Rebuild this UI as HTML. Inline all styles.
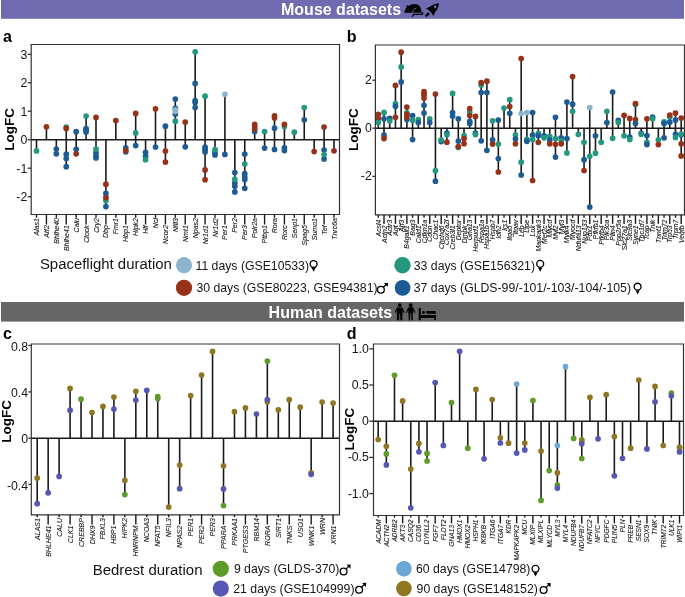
<!DOCTYPE html>
<html><head><meta charset="utf-8"><title>Figure</title>
<style>
html,body{margin:0;padding:0;background:#fff;width:685px;height:597px;overflow:hidden;}
svg{display:block;font-family:"Liberation Sans", sans-serif;will-change:transform;}
</style></head>
<body>
<svg width="685" height="597" viewBox="0 0 685 597">
<rect x="0" y="0" width="685" height="597" fill="#fff"/>
<rect x="1" y="0" width="683" height="18.8" fill="#6f6bb1"/>
<text x="281.0" y="14.5" font-size="16" font-weight="bold" fill="#ffffff">Mouse datasets</text>
<rect x="1" y="302" width="683" height="19.6" fill="#666666"/>
<text x="268.6" y="317.9" font-size="16" font-weight="bold" fill="#ffffff">Human datasets</text>
<path fill="#000" d="M404.3,12.7 C404.7,10.8 405.6,9.0 406.5,7.8 L406.7,5.0 L408.6,6.1 C409.9,4.8 412.0,4.0 414.8,4.0 C418.8,4.0 421.5,7.4 421.5,12.7 Z"/>
<path fill="none" stroke="#6f6bb1" stroke-width="0.9" d="M412.6,12.9 C412.6,10.6 413.9,8.7 416.2,8.3"/>
<circle cx="408.1" cy="9.9" r="0.75" fill="#3a3860"/>
<path fill="none" stroke="#000" stroke-width="1.3" stroke-linecap="round" d="M412.3,16.3 L413.7,14.4 L421.8,14.4 C422.9,14.4 423.0,12.9 422.0,12.6"/>
<path fill="#000" d="M438.9,3.2 C436.6,3.3 434.0,4.2 432.0,5.5 L426.0,8.5 L429.2,10.4 L431.6,13.0 L433.2,15.9 L435.5,11.6 C437.5,9.4 438.8,6.6 438.9,3.2 Z"/>
<circle cx="435.2" cy="6.8" r="1.35" fill="#6f6bb1"/>
<ellipse cx="427.3" cy="14.7" rx="2.7" ry="1.35" transform="rotate(-42 427.3 14.7)" fill="#000"/>
<g fill="#000"><circle cx="399.7" cy="305.2" r="1.85"/><path d="M396.8,307.6 L402.59999999999997,307.6 L404.59999999999997,312.5 L403.7,313.0 L402.5,310.4 L402.5,320.2 L400.2,320.2 L400.09999999999997,313.6 L399.3,313.6 L399.2,320.2 L396.9,320.2 L396.9,310.4 L395.7,313.0 L394.8,312.5 Z"/><circle cx="410.7" cy="305.2" r="1.85"/><path d="M408.3,307.3 L413.09999999999997,307.3 L415.59999999999997,312.6 L414.8,313.1 L413.09999999999997,310.2 L413.3,313.6 L412.8,313.6 L412.8,320.2 L411.3,320.2 L411.2,313.6 L410.2,313.6 L410.09999999999997,320.2 L408.59999999999997,320.2 L408.59999999999997,313.6 L408.09999999999997,313.6 L408.3,310.2 L406.59999999999997,313.1 L405.8,312.6 Z"/><rect x="418.7" y="308.1" width="2.1" height="12.1"/><rect x="420.5" y="315.1" width="15.3" height="2.8"/><rect x="434.1" y="315.1" width="1.7" height="5.1"/><circle cx="423.5" cy="312.5" r="1.45"/><rect x="426.1" y="310.9" width="9.9" height="2.9" rx="1.2"/></g>
<text x="2.9" y="41.7" font-size="16" font-weight="bold" fill="#000">a</text>
<text transform="translate(14.1,129.4) rotate(-90)" text-anchor="middle" font-size="13.5" font-weight="bold" fill="#000">LogFC</text>
<line x1="31.2" y1="139.7" x2="339.5" y2="139.7" stroke="#1a1a1a" stroke-width="1.6"/>
<line x1="36.50" y1="139.70" x2="36.50" y2="150.90" stroke="#1a1a1a" stroke-width="1.6"/>
<line x1="46.42" y1="126.80" x2="46.42" y2="139.70" stroke="#1a1a1a" stroke-width="1.6"/>
<line x1="56.33" y1="139.70" x2="56.33" y2="153.80" stroke="#1a1a1a" stroke-width="1.6"/>
<line x1="66.25" y1="127.20" x2="66.25" y2="166.70" stroke="#1a1a1a" stroke-width="1.6"/>
<line x1="76.17" y1="131.70" x2="76.17" y2="153.80" stroke="#1a1a1a" stroke-width="1.6"/>
<line x1="86.08" y1="116.10" x2="86.08" y2="139.70" stroke="#1a1a1a" stroke-width="1.6"/>
<line x1="96.00" y1="117.40" x2="96.00" y2="158.00" stroke="#1a1a1a" stroke-width="1.6"/>
<line x1="105.92" y1="139.70" x2="105.92" y2="206.60" stroke="#1a1a1a" stroke-width="1.6"/>
<line x1="115.83" y1="120.50" x2="115.83" y2="139.70" stroke="#1a1a1a" stroke-width="1.6"/>
<line x1="125.75" y1="139.70" x2="125.75" y2="151.80" stroke="#1a1a1a" stroke-width="1.6"/>
<line x1="135.67" y1="113.40" x2="135.67" y2="145.60" stroke="#1a1a1a" stroke-width="1.6"/>
<line x1="145.58" y1="139.70" x2="145.58" y2="159.70" stroke="#1a1a1a" stroke-width="1.6"/>
<line x1="155.50" y1="108.80" x2="155.50" y2="147.00" stroke="#1a1a1a" stroke-width="1.6"/>
<line x1="165.42" y1="126.20" x2="165.42" y2="162.10" stroke="#1a1a1a" stroke-width="1.6"/>
<line x1="175.33" y1="99.00" x2="175.33" y2="139.70" stroke="#1a1a1a" stroke-width="1.6"/>
<line x1="185.25" y1="122.00" x2="185.25" y2="146.80" stroke="#1a1a1a" stroke-width="1.6"/>
<line x1="195.17" y1="51.80" x2="195.17" y2="139.70" stroke="#1a1a1a" stroke-width="1.6"/>
<line x1="205.08" y1="96.20" x2="205.08" y2="179.70" stroke="#1a1a1a" stroke-width="1.6"/>
<line x1="215.00" y1="139.70" x2="215.00" y2="155.00" stroke="#1a1a1a" stroke-width="1.6"/>
<line x1="224.92" y1="94.30" x2="224.92" y2="154.40" stroke="#1a1a1a" stroke-width="1.6"/>
<line x1="234.83" y1="139.70" x2="234.83" y2="191.90" stroke="#1a1a1a" stroke-width="1.6"/>
<line x1="244.75" y1="139.70" x2="244.75" y2="188.30" stroke="#1a1a1a" stroke-width="1.6"/>
<line x1="254.67" y1="124.30" x2="254.67" y2="139.70" stroke="#1a1a1a" stroke-width="1.6"/>
<line x1="264.58" y1="131.50" x2="264.58" y2="148.10" stroke="#1a1a1a" stroke-width="1.6"/>
<line x1="274.50" y1="115.90" x2="274.50" y2="149.40" stroke="#1a1a1a" stroke-width="1.6"/>
<line x1="284.42" y1="124.30" x2="284.42" y2="150.60" stroke="#1a1a1a" stroke-width="1.6"/>
<line x1="294.33" y1="132.20" x2="294.33" y2="139.70" stroke="#1a1a1a" stroke-width="1.6"/>
<line x1="304.25" y1="107.50" x2="304.25" y2="139.70" stroke="#1a1a1a" stroke-width="1.6"/>
<line x1="314.17" y1="139.70" x2="314.17" y2="151.60" stroke="#1a1a1a" stroke-width="1.6"/>
<line x1="324.08" y1="127.10" x2="324.08" y2="159.00" stroke="#1a1a1a" stroke-width="1.6"/>
<line x1="334.00" y1="139.70" x2="334.00" y2="150.80" stroke="#1a1a1a" stroke-width="1.6"/>
<circle cx="36.50" cy="150.90" r="2.85" fill="#23987e"/>
<circle cx="46.42" cy="126.80" r="2.85" fill="#973218"/>
<circle cx="56.33" cy="149.10" r="2.85" fill="#1c5b94"/>
<circle cx="56.33" cy="153.80" r="2.85" fill="#1c5b94"/>
<circle cx="66.25" cy="127.20" r="2.85" fill="#23987e"/>
<circle cx="66.25" cy="128.40" r="2.85" fill="#973218"/>
<circle cx="66.25" cy="154.20" r="2.85" fill="#1c5b94"/>
<circle cx="66.25" cy="158.50" r="2.85" fill="#1c5b94"/>
<circle cx="66.25" cy="166.70" r="2.85" fill="#1c5b94"/>
<circle cx="76.17" cy="131.70" r="2.85" fill="#1c5b94"/>
<circle cx="76.17" cy="149.30" r="2.85" fill="#1c5b94"/>
<circle cx="76.17" cy="153.80" r="2.85" fill="#973218"/>
<circle cx="86.08" cy="116.10" r="2.85" fill="#23987e"/>
<circle cx="86.08" cy="128.50" r="2.85" fill="#1c5b94"/>
<circle cx="86.08" cy="130.20" r="2.85" fill="#1c5b94"/>
<circle cx="86.08" cy="131.90" r="2.85" fill="#1c5b94"/>
<circle cx="96.00" cy="117.40" r="2.85" fill="#973218"/>
<circle cx="96.00" cy="152.50" r="2.85" fill="#1c5b94"/>
<circle cx="96.00" cy="155.50" r="2.85" fill="#1c5b94"/>
<circle cx="96.00" cy="158.00" r="2.85" fill="#1c5b94"/>
<circle cx="96.00" cy="149.10" r="2.85" fill="#23987e"/>
<circle cx="105.92" cy="184.20" r="2.85" fill="#973218"/>
<circle cx="105.92" cy="193.40" r="2.85" fill="#1c5b94"/>
<circle cx="105.92" cy="200.40" r="2.85" fill="#23987e"/>
<circle cx="105.92" cy="197.70" r="2.85" fill="#973218"/>
<circle cx="105.92" cy="206.60" r="2.85" fill="#1c5b94"/>
<circle cx="115.83" cy="120.50" r="2.85" fill="#973218"/>
<circle cx="125.75" cy="151.80" r="2.85" fill="#1c5b94"/>
<circle cx="125.75" cy="147.80" r="2.85" fill="#1c5b94"/>
<circle cx="125.75" cy="150.60" r="2.85" fill="#973218"/>
<circle cx="135.67" cy="113.40" r="2.85" fill="#973218"/>
<circle cx="135.67" cy="132.90" r="2.85" fill="#23987e"/>
<circle cx="135.67" cy="145.60" r="2.85" fill="#1c5b94"/>
<circle cx="145.58" cy="152.30" r="2.85" fill="#1c5b94"/>
<circle cx="145.58" cy="156.30" r="2.85" fill="#1c5b94"/>
<circle cx="145.58" cy="159.70" r="2.85" fill="#23987e"/>
<circle cx="155.50" cy="108.80" r="2.85" fill="#973218"/>
<circle cx="155.50" cy="147.00" r="2.85" fill="#1c5b94"/>
<circle cx="165.42" cy="126.20" r="2.85" fill="#1c5b94"/>
<circle cx="165.42" cy="151.10" r="2.85" fill="#973218"/>
<circle cx="165.42" cy="162.10" r="2.85" fill="#973218"/>
<circle cx="175.33" cy="121.20" r="2.85" fill="#23987e"/>
<circle cx="175.33" cy="99.00" r="2.85" fill="#1c5b94"/>
<circle cx="175.33" cy="108.40" r="2.85" fill="#1c5b94"/>
<circle cx="175.33" cy="114.10" r="2.85" fill="#1c5b94"/>
<circle cx="175.33" cy="109.80" r="2.85" fill="#8db4cf"/>
<circle cx="175.33" cy="111.30" r="2.85" fill="#8db4cf"/>
<circle cx="185.25" cy="122.00" r="2.85" fill="#973218"/>
<circle cx="185.25" cy="146.80" r="2.85" fill="#1c5b94"/>
<circle cx="195.17" cy="51.80" r="2.85" fill="#23987e"/>
<circle cx="195.17" cy="83.40" r="2.85" fill="#1c5b94"/>
<circle cx="195.17" cy="100.60" r="2.85" fill="#1c5b94"/>
<circle cx="195.17" cy="102.60" r="2.85" fill="#1c5b94"/>
<circle cx="195.17" cy="107.50" r="2.85" fill="#1c5b94"/>
<circle cx="205.08" cy="96.20" r="2.85" fill="#23987e"/>
<circle cx="205.08" cy="147.20" r="2.85" fill="#1c5b94"/>
<circle cx="205.08" cy="149.60" r="2.85" fill="#1c5b94"/>
<circle cx="205.08" cy="152.00" r="2.85" fill="#1c5b94"/>
<circle cx="205.08" cy="169.90" r="2.85" fill="#973218"/>
<circle cx="205.08" cy="179.70" r="2.85" fill="#973218"/>
<circle cx="215.00" cy="152.50" r="2.85" fill="#1c5b94"/>
<circle cx="215.00" cy="155.00" r="2.85" fill="#1c5b94"/>
<circle cx="215.00" cy="149.60" r="2.85" fill="#23987e"/>
<circle cx="224.92" cy="94.30" r="2.85" fill="#8db4cf"/>
<circle cx="224.92" cy="154.40" r="2.85" fill="#1c5b94"/>
<circle cx="234.83" cy="172.60" r="2.85" fill="#1c5b94"/>
<circle cx="234.83" cy="183.00" r="2.85" fill="#1c5b94"/>
<circle cx="234.83" cy="186.30" r="2.85" fill="#1c5b94"/>
<circle cx="234.83" cy="179.30" r="2.85" fill="#23987e"/>
<circle cx="234.83" cy="191.90" r="2.85" fill="#1c5b94"/>
<circle cx="244.75" cy="154.00" r="2.85" fill="#1c5b94"/>
<circle cx="244.75" cy="164.00" r="2.85" fill="#23987e"/>
<circle cx="244.75" cy="173.70" r="2.85" fill="#1c5b94"/>
<circle cx="244.75" cy="177.10" r="2.85" fill="#1c5b94"/>
<circle cx="244.75" cy="179.60" r="2.85" fill="#1c5b94"/>
<circle cx="244.75" cy="188.30" r="2.85" fill="#1c5b94"/>
<circle cx="254.67" cy="131.50" r="2.85" fill="#1c5b94"/>
<circle cx="254.67" cy="124.30" r="2.85" fill="#973218"/>
<circle cx="254.67" cy="126.80" r="2.85" fill="#973218"/>
<circle cx="254.67" cy="129.00" r="2.85" fill="#973218"/>
<circle cx="264.58" cy="131.50" r="2.85" fill="#23987e"/>
<circle cx="264.58" cy="148.10" r="2.85" fill="#1c5b94"/>
<circle cx="274.50" cy="128.20" r="2.85" fill="#1c5b94"/>
<circle cx="274.50" cy="115.90" r="2.85" fill="#973218"/>
<circle cx="274.50" cy="118.10" r="2.85" fill="#973218"/>
<circle cx="274.50" cy="149.40" r="2.85" fill="#1c5b94"/>
<circle cx="284.42" cy="126.50" r="2.85" fill="#23987e"/>
<circle cx="284.42" cy="124.30" r="2.85" fill="#973218"/>
<circle cx="284.42" cy="147.80" r="2.85" fill="#1c5b94"/>
<circle cx="284.42" cy="150.60" r="2.85" fill="#1c5b94"/>
<circle cx="294.33" cy="132.20" r="2.85" fill="#23987e"/>
<circle cx="304.25" cy="107.50" r="2.85" fill="#23987e"/>
<circle cx="304.25" cy="119.80" r="2.85" fill="#1c5b94"/>
<circle cx="314.17" cy="151.60" r="2.85" fill="#973218"/>
<circle cx="324.08" cy="127.10" r="2.85" fill="#973218"/>
<circle cx="324.08" cy="150.00" r="2.85" fill="#1c5b94"/>
<circle cx="324.08" cy="159.00" r="2.85" fill="#1c5b94"/>
<circle cx="324.08" cy="154.50" r="2.85" fill="#23987e"/>
<circle cx="334.00" cy="150.80" r="2.85" fill="#973218"/>
<path d="M31.2,44.5 L339.5,44.5 L339.5,214.5 L31.2,214.5 Z" fill="none" stroke="#333333" stroke-width="1.2"/>
<line x1="27.7" y1="54.3" x2="31.2" y2="54.3" stroke="#333333" stroke-width="1.3"/>
<text x="27.299999999999997" y="58.699999999999996" text-anchor="end" font-size="12.3" fill="#151515">3</text>
<line x1="27.7" y1="82.7" x2="31.2" y2="82.7" stroke="#333333" stroke-width="1.3"/>
<text x="27.299999999999997" y="87.10000000000001" text-anchor="end" font-size="12.3" fill="#151515">2</text>
<line x1="27.7" y1="111.2" x2="31.2" y2="111.2" stroke="#333333" stroke-width="1.3"/>
<text x="27.299999999999997" y="115.60000000000001" text-anchor="end" font-size="12.3" fill="#151515">1</text>
<line x1="27.7" y1="139.7" x2="31.2" y2="139.7" stroke="#333333" stroke-width="1.3"/>
<text x="27.299999999999997" y="144.1" text-anchor="end" font-size="12.3" fill="#151515">0</text>
<line x1="27.7" y1="168.2" x2="31.2" y2="168.2" stroke="#333333" stroke-width="1.3"/>
<text x="27.299999999999997" y="172.6" text-anchor="end" font-size="12.3" fill="#151515">-1</text>
<line x1="27.7" y1="196.7" x2="31.2" y2="196.7" stroke="#333333" stroke-width="1.3"/>
<text x="27.299999999999997" y="201.1" text-anchor="end" font-size="12.3" fill="#151515">-2</text>
<line x1="36.50" y1="214.5" x2="36.50" y2="217.8" stroke="#1a1a1a" stroke-width="1.4"/>
<text transform="translate(39.02,218.0) rotate(-90)" text-anchor="end" font-size="7.0" font-style="italic" fill="#1a1a1a" stroke="#1a1a1a" stroke-width="0.1">Alas1</text>
<line x1="46.42" y1="214.5" x2="46.42" y2="224.5" stroke="#1a1a1a" stroke-width="1.4"/>
<text transform="translate(48.94,225.2) rotate(-90)" text-anchor="end" font-size="7.0" font-style="italic" fill="#1a1a1a" stroke="#1a1a1a" stroke-width="0.1">Atf2</text>
<line x1="56.33" y1="214.5" x2="56.33" y2="217.8" stroke="#1a1a1a" stroke-width="1.4"/>
<text transform="translate(58.85,218.0) rotate(-90)" text-anchor="end" font-size="7.0" font-style="italic" fill="#1a1a1a" stroke="#1a1a1a" stroke-width="0.1">Bhlhe40</text>
<line x1="66.25" y1="214.5" x2="66.25" y2="224.5" stroke="#1a1a1a" stroke-width="1.4"/>
<text transform="translate(68.77,225.2) rotate(-90)" text-anchor="end" font-size="7.0" font-style="italic" fill="#1a1a1a" stroke="#1a1a1a" stroke-width="0.1">Bhlhe41</text>
<line x1="76.17" y1="214.5" x2="76.17" y2="217.8" stroke="#1a1a1a" stroke-width="1.4"/>
<text transform="translate(78.69,218.0) rotate(-90)" text-anchor="end" font-size="7.0" font-style="italic" fill="#1a1a1a" stroke="#1a1a1a" stroke-width="0.1">Calu</text>
<line x1="86.08" y1="214.5" x2="86.08" y2="224.5" stroke="#1a1a1a" stroke-width="1.4"/>
<text transform="translate(88.60,225.2) rotate(-90)" text-anchor="end" font-size="7.0" font-style="italic" fill="#1a1a1a" stroke="#1a1a1a" stroke-width="0.1">Clock</text>
<line x1="96.00" y1="214.5" x2="96.00" y2="217.8" stroke="#1a1a1a" stroke-width="1.4"/>
<text transform="translate(98.52,218.0) rotate(-90)" text-anchor="end" font-size="7.0" font-style="italic" fill="#1a1a1a" stroke="#1a1a1a" stroke-width="0.1">Cry2</text>
<line x1="105.92" y1="214.5" x2="105.92" y2="224.5" stroke="#1a1a1a" stroke-width="1.4"/>
<text transform="translate(108.44,225.2) rotate(-90)" text-anchor="end" font-size="7.0" font-style="italic" fill="#1a1a1a" stroke="#1a1a1a" stroke-width="0.1">Dbp</text>
<line x1="115.83" y1="214.5" x2="115.83" y2="217.8" stroke="#1a1a1a" stroke-width="1.4"/>
<text transform="translate(118.35,218.0) rotate(-90)" text-anchor="end" font-size="7.0" font-style="italic" fill="#1a1a1a" stroke="#1a1a1a" stroke-width="0.1">Fmr1</text>
<line x1="125.75" y1="214.5" x2="125.75" y2="224.5" stroke="#1a1a1a" stroke-width="1.4"/>
<text transform="translate(128.27,225.2) rotate(-90)" text-anchor="end" font-size="7.0" font-style="italic" fill="#1a1a1a" stroke="#1a1a1a" stroke-width="0.1">Hbp1</text>
<line x1="135.67" y1="214.5" x2="135.67" y2="217.8" stroke="#1a1a1a" stroke-width="1.4"/>
<text transform="translate(138.19,218.0) rotate(-90)" text-anchor="end" font-size="7.0" font-style="italic" fill="#1a1a1a" stroke="#1a1a1a" stroke-width="0.1">Hipk2</text>
<line x1="145.58" y1="214.5" x2="145.58" y2="224.5" stroke="#1a1a1a" stroke-width="1.4"/>
<text transform="translate(148.10,225.2) rotate(-90)" text-anchor="end" font-size="7.0" font-style="italic" fill="#1a1a1a" stroke="#1a1a1a" stroke-width="0.1">Hlf</text>
<line x1="155.50" y1="214.5" x2="155.50" y2="217.8" stroke="#1a1a1a" stroke-width="1.4"/>
<text transform="translate(158.02,218.0) rotate(-90)" text-anchor="end" font-size="7.0" font-style="italic" fill="#1a1a1a" stroke="#1a1a1a" stroke-width="0.1">Ncl</text>
<line x1="165.42" y1="214.5" x2="165.42" y2="224.5" stroke="#1a1a1a" stroke-width="1.4"/>
<text transform="translate(167.94,225.2) rotate(-90)" text-anchor="end" font-size="7.0" font-style="italic" fill="#1a1a1a" stroke="#1a1a1a" stroke-width="0.1">Ncor2</text>
<line x1="175.33" y1="214.5" x2="175.33" y2="217.8" stroke="#1a1a1a" stroke-width="1.4"/>
<text transform="translate(177.85,218.0) rotate(-90)" text-anchor="end" font-size="7.0" font-style="italic" fill="#1a1a1a" stroke="#1a1a1a" stroke-width="0.1">Nfil3</text>
<line x1="185.25" y1="214.5" x2="185.25" y2="224.5" stroke="#1a1a1a" stroke-width="1.4"/>
<text transform="translate(187.77,225.2) rotate(-90)" text-anchor="end" font-size="7.0" font-style="italic" fill="#1a1a1a" stroke="#1a1a1a" stroke-width="0.1">Nmt1</text>
<line x1="195.17" y1="214.5" x2="195.17" y2="217.8" stroke="#1a1a1a" stroke-width="1.4"/>
<text transform="translate(197.69,218.0) rotate(-90)" text-anchor="end" font-size="7.0" font-style="italic" fill="#1a1a1a" stroke="#1a1a1a" stroke-width="0.1">Npas2</text>
<line x1="205.08" y1="214.5" x2="205.08" y2="224.5" stroke="#1a1a1a" stroke-width="1.4"/>
<text transform="translate(207.60,225.2) rotate(-90)" text-anchor="end" font-size="7.0" font-style="italic" fill="#1a1a1a" stroke="#1a1a1a" stroke-width="0.1">Nr1d1</text>
<line x1="215.00" y1="214.5" x2="215.00" y2="217.8" stroke="#1a1a1a" stroke-width="1.4"/>
<text transform="translate(217.52,218.0) rotate(-90)" text-anchor="end" font-size="7.0" font-style="italic" fill="#1a1a1a" stroke="#1a1a1a" stroke-width="0.1">Nr1d2</text>
<line x1="224.92" y1="214.5" x2="224.92" y2="224.5" stroke="#1a1a1a" stroke-width="1.4"/>
<text transform="translate(227.44,225.2) rotate(-90)" text-anchor="end" font-size="7.0" font-style="italic" fill="#1a1a1a" stroke="#1a1a1a" stroke-width="0.1">Per1</text>
<line x1="234.83" y1="214.5" x2="234.83" y2="217.8" stroke="#1a1a1a" stroke-width="1.4"/>
<text transform="translate(237.35,218.0) rotate(-90)" text-anchor="end" font-size="7.0" font-style="italic" fill="#1a1a1a" stroke="#1a1a1a" stroke-width="0.1">Per2</text>
<line x1="244.75" y1="214.5" x2="244.75" y2="224.5" stroke="#1a1a1a" stroke-width="1.4"/>
<text transform="translate(247.27,225.2) rotate(-90)" text-anchor="end" font-size="7.0" font-style="italic" fill="#1a1a1a" stroke="#1a1a1a" stroke-width="0.1">Per3</text>
<line x1="254.67" y1="214.5" x2="254.67" y2="217.8" stroke="#1a1a1a" stroke-width="1.4"/>
<text transform="translate(257.19,218.0) rotate(-90)" text-anchor="end" font-size="7.0" font-style="italic" fill="#1a1a1a" stroke="#1a1a1a" stroke-width="0.1">Polr2a</text>
<line x1="264.58" y1="214.5" x2="264.58" y2="224.5" stroke="#1a1a1a" stroke-width="1.4"/>
<text transform="translate(267.10,225.2) rotate(-90)" text-anchor="end" font-size="7.0" font-style="italic" fill="#1a1a1a" stroke="#1a1a1a" stroke-width="0.1">Ptbp1</text>
<line x1="274.50" y1="214.5" x2="274.50" y2="217.8" stroke="#1a1a1a" stroke-width="1.4"/>
<text transform="translate(277.02,218.0) rotate(-90)" text-anchor="end" font-size="7.0" font-style="italic" fill="#1a1a1a" stroke="#1a1a1a" stroke-width="0.1">Rora</text>
<line x1="284.42" y1="214.5" x2="284.42" y2="224.5" stroke="#1a1a1a" stroke-width="1.4"/>
<text transform="translate(286.94,225.2) rotate(-90)" text-anchor="end" font-size="7.0" font-style="italic" fill="#1a1a1a" stroke="#1a1a1a" stroke-width="0.1">Rorc</text>
<line x1="294.33" y1="214.5" x2="294.33" y2="217.8" stroke="#1a1a1a" stroke-width="1.4"/>
<text transform="translate(296.85,218.0) rotate(-90)" text-anchor="end" font-size="7.0" font-style="italic" fill="#1a1a1a" stroke="#1a1a1a" stroke-width="0.1">Senp1</text>
<line x1="304.25" y1="214.5" x2="304.25" y2="224.5" stroke="#1a1a1a" stroke-width="1.4"/>
<text transform="translate(306.77,225.2) rotate(-90)" text-anchor="end" font-size="7.0" font-style="italic" fill="#1a1a1a" stroke="#1a1a1a" stroke-width="0.1">Spag5</text>
<line x1="314.17" y1="214.5" x2="314.17" y2="217.8" stroke="#1a1a1a" stroke-width="1.4"/>
<text transform="translate(316.69,218.0) rotate(-90)" text-anchor="end" font-size="7.0" font-style="italic" fill="#1a1a1a" stroke="#1a1a1a" stroke-width="0.1">Sumo1</text>
<line x1="324.08" y1="214.5" x2="324.08" y2="224.5" stroke="#1a1a1a" stroke-width="1.4"/>
<text transform="translate(326.60,225.2) rotate(-90)" text-anchor="end" font-size="7.0" font-style="italic" fill="#1a1a1a" stroke="#1a1a1a" stroke-width="0.1">Tef</text>
<line x1="334.00" y1="214.5" x2="334.00" y2="217.8" stroke="#1a1a1a" stroke-width="1.4"/>
<text transform="translate(336.52,218.0) rotate(-90)" text-anchor="end" font-size="7.0" font-style="italic" fill="#1a1a1a" stroke="#1a1a1a" stroke-width="0.1">Tnrc6a</text>
<text x="346.8" y="41.7" font-size="16" font-weight="bold" fill="#000">b</text>
<text transform="translate(358.1,129.7) rotate(-90)" text-anchor="middle" font-size="13.5" font-weight="bold" fill="#000">LogFC</text>
<line x1="375.4" y1="128.2" x2="684.5" y2="128.2" stroke="#1a1a1a" stroke-width="1.6"/>
<line x1="378.30" y1="114.30" x2="378.30" y2="128.20" stroke="#1a1a1a" stroke-width="1.6"/>
<line x1="384.02" y1="112.40" x2="384.02" y2="138.60" stroke="#1a1a1a" stroke-width="1.6"/>
<line x1="389.73" y1="118.40" x2="389.73" y2="128.20" stroke="#1a1a1a" stroke-width="1.6"/>
<line x1="395.45" y1="85.40" x2="395.45" y2="128.20" stroke="#1a1a1a" stroke-width="1.6"/>
<line x1="401.16" y1="52.20" x2="401.16" y2="128.20" stroke="#1a1a1a" stroke-width="1.6"/>
<line x1="406.88" y1="107.10" x2="406.88" y2="128.20" stroke="#1a1a1a" stroke-width="1.6"/>
<line x1="412.59" y1="115.50" x2="412.59" y2="139.60" stroke="#1a1a1a" stroke-width="1.6"/>
<line x1="418.31" y1="119.60" x2="418.31" y2="128.20" stroke="#1a1a1a" stroke-width="1.6"/>
<line x1="424.02" y1="91.70" x2="424.02" y2="128.20" stroke="#1a1a1a" stroke-width="1.6"/>
<line x1="429.74" y1="118.80" x2="429.74" y2="128.20" stroke="#1a1a1a" stroke-width="1.6"/>
<line x1="435.45" y1="94.00" x2="435.45" y2="181.20" stroke="#1a1a1a" stroke-width="1.6"/>
<line x1="441.17" y1="128.20" x2="441.17" y2="141.60" stroke="#1a1a1a" stroke-width="1.6"/>
<line x1="446.88" y1="128.20" x2="446.88" y2="142.20" stroke="#1a1a1a" stroke-width="1.6"/>
<line x1="452.60" y1="93.40" x2="452.60" y2="128.20" stroke="#1a1a1a" stroke-width="1.6"/>
<line x1="458.31" y1="118.80" x2="458.31" y2="147.40" stroke="#1a1a1a" stroke-width="1.6"/>
<line x1="464.03" y1="128.20" x2="464.03" y2="143.70" stroke="#1a1a1a" stroke-width="1.6"/>
<line x1="469.74" y1="108.50" x2="469.74" y2="128.20" stroke="#1a1a1a" stroke-width="1.6"/>
<line x1="475.46" y1="116.40" x2="475.46" y2="134.60" stroke="#1a1a1a" stroke-width="1.6"/>
<line x1="481.17" y1="82.70" x2="481.17" y2="140.80" stroke="#1a1a1a" stroke-width="1.6"/>
<line x1="486.89" y1="81.20" x2="486.89" y2="150.30" stroke="#1a1a1a" stroke-width="1.6"/>
<line x1="492.60" y1="120.80" x2="492.60" y2="144.10" stroke="#1a1a1a" stroke-width="1.6"/>
<line x1="498.32" y1="120.00" x2="498.32" y2="172.00" stroke="#1a1a1a" stroke-width="1.6"/>
<line x1="504.03" y1="108.00" x2="504.03" y2="128.20" stroke="#1a1a1a" stroke-width="1.6"/>
<line x1="509.75" y1="99.70" x2="509.75" y2="128.20" stroke="#1a1a1a" stroke-width="1.6"/>
<line x1="515.46" y1="128.20" x2="515.46" y2="143.80" stroke="#1a1a1a" stroke-width="1.6"/>
<line x1="521.18" y1="58.60" x2="521.18" y2="175.00" stroke="#1a1a1a" stroke-width="1.6"/>
<line x1="526.89" y1="112.50" x2="526.89" y2="141.30" stroke="#1a1a1a" stroke-width="1.6"/>
<line x1="532.61" y1="112.50" x2="532.61" y2="180.50" stroke="#1a1a1a" stroke-width="1.6"/>
<line x1="538.32" y1="128.20" x2="538.32" y2="142.30" stroke="#1a1a1a" stroke-width="1.6"/>
<line x1="544.04" y1="128.20" x2="544.04" y2="137.80" stroke="#1a1a1a" stroke-width="1.6"/>
<line x1="549.75" y1="128.20" x2="549.75" y2="143.80" stroke="#1a1a1a" stroke-width="1.6"/>
<line x1="555.47" y1="117.30" x2="555.47" y2="157.10" stroke="#1a1a1a" stroke-width="1.6"/>
<line x1="561.18" y1="128.20" x2="561.18" y2="143.80" stroke="#1a1a1a" stroke-width="1.6"/>
<line x1="566.90" y1="102.00" x2="566.90" y2="152.90" stroke="#1a1a1a" stroke-width="1.6"/>
<line x1="572.61" y1="76.60" x2="572.61" y2="128.20" stroke="#1a1a1a" stroke-width="1.6"/>
<line x1="578.33" y1="128.20" x2="578.33" y2="134.30" stroke="#1a1a1a" stroke-width="1.6"/>
<line x1="584.04" y1="128.20" x2="584.04" y2="170.50" stroke="#1a1a1a" stroke-width="1.6"/>
<line x1="589.76" y1="107.50" x2="589.76" y2="207.10" stroke="#1a1a1a" stroke-width="1.6"/>
<line x1="595.47" y1="128.20" x2="595.47" y2="153.20" stroke="#1a1a1a" stroke-width="1.6"/>
<line x1="601.19" y1="128.20" x2="601.19" y2="142.30" stroke="#1a1a1a" stroke-width="1.6"/>
<line x1="606.90" y1="111.30" x2="606.90" y2="128.20" stroke="#1a1a1a" stroke-width="1.6"/>
<line x1="612.62" y1="92.00" x2="612.62" y2="138.30" stroke="#1a1a1a" stroke-width="1.6"/>
<line x1="618.33" y1="120.30" x2="618.33" y2="128.20" stroke="#1a1a1a" stroke-width="1.6"/>
<line x1="624.05" y1="115.40" x2="624.05" y2="135.80" stroke="#1a1a1a" stroke-width="1.6"/>
<line x1="629.76" y1="118.40" x2="629.76" y2="139.60" stroke="#1a1a1a" stroke-width="1.6"/>
<line x1="635.48" y1="103.50" x2="635.48" y2="128.20" stroke="#1a1a1a" stroke-width="1.6"/>
<line x1="641.19" y1="128.20" x2="641.19" y2="134.30" stroke="#1a1a1a" stroke-width="1.6"/>
<line x1="646.91" y1="118.80" x2="646.91" y2="144.60" stroke="#1a1a1a" stroke-width="1.6"/>
<line x1="652.62" y1="117.00" x2="652.62" y2="128.20" stroke="#1a1a1a" stroke-width="1.6"/>
<line x1="658.34" y1="128.20" x2="658.34" y2="144.60" stroke="#1a1a1a" stroke-width="1.6"/>
<line x1="664.05" y1="121.90" x2="664.05" y2="137.80" stroke="#1a1a1a" stroke-width="1.6"/>
<line x1="669.77" y1="115.10" x2="669.77" y2="128.20" stroke="#1a1a1a" stroke-width="1.6"/>
<line x1="675.48" y1="113.10" x2="675.48" y2="137.40" stroke="#1a1a1a" stroke-width="1.6"/>
<line x1="681.20" y1="118.10" x2="681.20" y2="155.90" stroke="#1a1a1a" stroke-width="1.6"/>
<circle cx="378.30" cy="114.30" r="2.85" fill="#973218"/>
<circle cx="378.30" cy="118.50" r="2.85" fill="#973218"/>
<circle cx="378.30" cy="122.60" r="2.85" fill="#23987e"/>
<circle cx="384.02" cy="112.40" r="2.85" fill="#23987e"/>
<circle cx="384.02" cy="118.80" r="2.85" fill="#1c5b94"/>
<circle cx="384.02" cy="135.20" r="2.85" fill="#1c5b94"/>
<circle cx="384.02" cy="138.60" r="2.85" fill="#973218"/>
<circle cx="389.73" cy="118.40" r="2.85" fill="#1c5b94"/>
<circle cx="389.73" cy="121.10" r="2.85" fill="#23987e"/>
<circle cx="395.45" cy="85.40" r="2.85" fill="#973218"/>
<circle cx="395.45" cy="103.50" r="2.85" fill="#23987e"/>
<circle cx="395.45" cy="106.30" r="2.85" fill="#1c5b94"/>
<circle cx="395.45" cy="117.30" r="2.85" fill="#973218"/>
<circle cx="401.16" cy="52.20" r="2.85" fill="#973218"/>
<circle cx="401.16" cy="66.90" r="2.85" fill="#23987e"/>
<circle cx="401.16" cy="81.90" r="2.85" fill="#1c5b94"/>
<circle cx="406.88" cy="107.10" r="2.85" fill="#973218"/>
<circle cx="406.88" cy="112.80" r="2.85" fill="#23987e"/>
<circle cx="406.88" cy="119.60" r="2.85" fill="#1c5b94"/>
<circle cx="406.88" cy="114.30" r="2.85" fill="#973218"/>
<circle cx="406.88" cy="117.00" r="2.85" fill="#973218"/>
<circle cx="412.59" cy="115.50" r="2.85" fill="#1c5b94"/>
<circle cx="412.59" cy="120.30" r="2.85" fill="#23987e"/>
<circle cx="412.59" cy="139.60" r="2.85" fill="#1c5b94"/>
<circle cx="418.31" cy="119.60" r="2.85" fill="#23987e"/>
<circle cx="418.31" cy="122.60" r="2.85" fill="#1c5b94"/>
<circle cx="424.02" cy="93.50" r="2.85" fill="#23987e"/>
<circle cx="424.02" cy="91.70" r="2.85" fill="#973218"/>
<circle cx="424.02" cy="94.70" r="2.85" fill="#973218"/>
<circle cx="424.02" cy="98.00" r="2.85" fill="#973218"/>
<circle cx="424.02" cy="105.30" r="2.85" fill="#1c5b94"/>
<circle cx="424.02" cy="113.10" r="2.85" fill="#1c5b94"/>
<circle cx="429.74" cy="118.80" r="2.85" fill="#23987e"/>
<circle cx="429.74" cy="122.60" r="2.85" fill="#1c5b94"/>
<circle cx="435.45" cy="94.00" r="2.85" fill="#973218"/>
<circle cx="435.45" cy="170.70" r="2.85" fill="#23987e"/>
<circle cx="435.45" cy="181.20" r="2.85" fill="#1c5b94"/>
<circle cx="441.17" cy="141.60" r="2.85" fill="#1c5b94"/>
<circle cx="441.17" cy="139.80" r="2.85" fill="#23987e"/>
<circle cx="446.88" cy="133.20" r="2.85" fill="#1c5b94"/>
<circle cx="446.88" cy="134.80" r="2.85" fill="#23987e"/>
<circle cx="446.88" cy="142.20" r="2.85" fill="#973218"/>
<circle cx="452.60" cy="93.40" r="2.85" fill="#23987e"/>
<circle cx="452.60" cy="112.60" r="2.85" fill="#1c5b94"/>
<circle cx="452.60" cy="116.10" r="2.85" fill="#1c5b94"/>
<circle cx="458.31" cy="118.80" r="2.85" fill="#1c5b94"/>
<circle cx="458.31" cy="141.00" r="2.85" fill="#1c5b94"/>
<circle cx="458.31" cy="147.40" r="2.85" fill="#23987e"/>
<circle cx="458.31" cy="146.50" r="2.85" fill="#973218"/>
<circle cx="464.03" cy="135.60" r="2.85" fill="#23987e"/>
<circle cx="464.03" cy="138.50" r="2.85" fill="#973218"/>
<circle cx="464.03" cy="143.70" r="2.85" fill="#973218"/>
<circle cx="469.74" cy="112.00" r="2.85" fill="#23987e"/>
<circle cx="469.74" cy="108.50" r="2.85" fill="#973218"/>
<circle cx="469.74" cy="115.50" r="2.85" fill="#973218"/>
<circle cx="469.74" cy="121.30" r="2.85" fill="#1c5b94"/>
<circle cx="469.74" cy="123.60" r="2.85" fill="#1c5b94"/>
<circle cx="475.46" cy="116.40" r="2.85" fill="#973218"/>
<circle cx="475.46" cy="133.20" r="2.85" fill="#1c5b94"/>
<circle cx="475.46" cy="134.60" r="2.85" fill="#23987e"/>
<circle cx="481.17" cy="84.90" r="2.85" fill="#23987e"/>
<circle cx="481.17" cy="82.70" r="2.85" fill="#973218"/>
<circle cx="481.17" cy="92.50" r="2.85" fill="#1c5b94"/>
<circle cx="481.17" cy="140.80" r="2.85" fill="#1c5b94"/>
<circle cx="486.89" cy="81.20" r="2.85" fill="#973218"/>
<circle cx="486.89" cy="92.50" r="2.85" fill="#1c5b94"/>
<circle cx="486.89" cy="150.30" r="2.85" fill="#1c5b94"/>
<circle cx="492.60" cy="120.80" r="2.85" fill="#23987e"/>
<circle cx="492.60" cy="139.80" r="2.85" fill="#1c5b94"/>
<circle cx="492.60" cy="144.10" r="2.85" fill="#973218"/>
<circle cx="498.32" cy="120.00" r="2.85" fill="#1c5b94"/>
<circle cx="498.32" cy="144.10" r="2.85" fill="#23987e"/>
<circle cx="498.32" cy="158.50" r="2.85" fill="#1c5b94"/>
<circle cx="498.32" cy="172.00" r="2.85" fill="#973218"/>
<circle cx="504.03" cy="108.00" r="2.85" fill="#23987e"/>
<circle cx="509.75" cy="99.70" r="2.85" fill="#23987e"/>
<circle cx="509.75" cy="106.50" r="2.85" fill="#973218"/>
<circle cx="509.75" cy="113.30" r="2.85" fill="#1c5b94"/>
<circle cx="515.46" cy="134.80" r="2.85" fill="#23987e"/>
<circle cx="515.46" cy="138.90" r="2.85" fill="#1c5b94"/>
<circle cx="515.46" cy="143.80" r="2.85" fill="#973218"/>
<circle cx="521.18" cy="58.60" r="2.85" fill="#973218"/>
<circle cx="521.18" cy="113.60" r="2.85" fill="#8db4cf"/>
<circle cx="521.18" cy="162.20" r="2.85" fill="#23987e"/>
<circle cx="521.18" cy="175.00" r="2.85" fill="#1c5b94"/>
<circle cx="526.89" cy="112.50" r="2.85" fill="#8db4cf"/>
<circle cx="526.89" cy="139.30" r="2.85" fill="#23987e"/>
<circle cx="526.89" cy="141.30" r="2.85" fill="#1c5b94"/>
<circle cx="532.61" cy="112.50" r="2.85" fill="#1c5b94"/>
<circle cx="532.61" cy="135.20" r="2.85" fill="#1c5b94"/>
<circle cx="532.61" cy="139.60" r="2.85" fill="#23987e"/>
<circle cx="532.61" cy="180.50" r="2.85" fill="#973218"/>
<circle cx="538.32" cy="133.30" r="2.85" fill="#23987e"/>
<circle cx="538.32" cy="135.80" r="2.85" fill="#1c5b94"/>
<circle cx="538.32" cy="142.30" r="2.85" fill="#973218"/>
<circle cx="544.04" cy="135.80" r="2.85" fill="#1c5b94"/>
<circle cx="544.04" cy="137.80" r="2.85" fill="#23987e"/>
<circle cx="549.75" cy="136.30" r="2.85" fill="#23987e"/>
<circle cx="549.75" cy="140.10" r="2.85" fill="#1c5b94"/>
<circle cx="549.75" cy="143.80" r="2.85" fill="#973218"/>
<circle cx="555.47" cy="117.30" r="2.85" fill="#1c5b94"/>
<circle cx="555.47" cy="138.60" r="2.85" fill="#23987e"/>
<circle cx="555.47" cy="144.30" r="2.85" fill="#973218"/>
<circle cx="555.47" cy="157.10" r="2.85" fill="#1c5b94"/>
<circle cx="561.18" cy="137.80" r="2.85" fill="#1c5b94"/>
<circle cx="561.18" cy="140.80" r="2.85" fill="#23987e"/>
<circle cx="561.18" cy="143.80" r="2.85" fill="#973218"/>
<circle cx="566.90" cy="102.00" r="2.85" fill="#1c5b94"/>
<circle cx="566.90" cy="138.60" r="2.85" fill="#1c5b94"/>
<circle cx="566.90" cy="152.90" r="2.85" fill="#23987e"/>
<circle cx="572.61" cy="76.60" r="2.85" fill="#973218"/>
<circle cx="572.61" cy="104.20" r="2.85" fill="#1c5b94"/>
<circle cx="572.61" cy="111.30" r="2.85" fill="#23987e"/>
<circle cx="578.33" cy="134.30" r="2.85" fill="#23987e"/>
<circle cx="584.04" cy="142.30" r="2.85" fill="#23987e"/>
<circle cx="584.04" cy="159.70" r="2.85" fill="#1c5b94"/>
<circle cx="584.04" cy="170.50" r="2.85" fill="#973218"/>
<circle cx="589.76" cy="107.50" r="2.85" fill="#8db4cf"/>
<circle cx="589.76" cy="156.30" r="2.85" fill="#23987e"/>
<circle cx="589.76" cy="207.10" r="2.85" fill="#1c5b94"/>
<circle cx="595.47" cy="135.80" r="2.85" fill="#1c5b94"/>
<circle cx="595.47" cy="153.20" r="2.85" fill="#23987e"/>
<circle cx="601.19" cy="142.30" r="2.85" fill="#23987e"/>
<circle cx="606.90" cy="111.30" r="2.85" fill="#23987e"/>
<circle cx="606.90" cy="122.60" r="2.85" fill="#1c5b94"/>
<circle cx="612.62" cy="92.00" r="2.85" fill="#1c5b94"/>
<circle cx="612.62" cy="138.30" r="2.85" fill="#23987e"/>
<circle cx="618.33" cy="120.30" r="2.85" fill="#1c5b94"/>
<circle cx="618.33" cy="122.60" r="2.85" fill="#23987e"/>
<circle cx="624.05" cy="115.40" r="2.85" fill="#973218"/>
<circle cx="624.05" cy="135.80" r="2.85" fill="#23987e"/>
<circle cx="629.76" cy="118.40" r="2.85" fill="#973218"/>
<circle cx="629.76" cy="137.10" r="2.85" fill="#1c5b94"/>
<circle cx="629.76" cy="139.60" r="2.85" fill="#23987e"/>
<circle cx="635.48" cy="104.50" r="2.85" fill="#23987e"/>
<circle cx="635.48" cy="103.50" r="2.85" fill="#973218"/>
<circle cx="635.48" cy="119.60" r="2.85" fill="#973218"/>
<circle cx="635.48" cy="123.40" r="2.85" fill="#1c5b94"/>
<circle cx="641.19" cy="133.30" r="2.85" fill="#1c5b94"/>
<circle cx="641.19" cy="134.30" r="2.85" fill="#23987e"/>
<circle cx="646.91" cy="118.80" r="2.85" fill="#973218"/>
<circle cx="646.91" cy="135.50" r="2.85" fill="#1c5b94"/>
<circle cx="646.91" cy="142.30" r="2.85" fill="#23987e"/>
<circle cx="646.91" cy="144.60" r="2.85" fill="#1c5b94"/>
<circle cx="652.62" cy="117.00" r="2.85" fill="#1c5b94"/>
<circle cx="652.62" cy="118.80" r="2.85" fill="#23987e"/>
<circle cx="658.34" cy="139.80" r="2.85" fill="#23987e"/>
<circle cx="658.34" cy="144.60" r="2.85" fill="#973218"/>
<circle cx="664.05" cy="121.90" r="2.85" fill="#23987e"/>
<circle cx="664.05" cy="123.40" r="2.85" fill="#1c5b94"/>
<circle cx="664.05" cy="137.80" r="2.85" fill="#1c5b94"/>
<circle cx="669.77" cy="117.00" r="2.85" fill="#23987e"/>
<circle cx="669.77" cy="115.10" r="2.85" fill="#973218"/>
<circle cx="669.77" cy="122.20" r="2.85" fill="#1c5b94"/>
<circle cx="675.48" cy="113.10" r="2.85" fill="#973218"/>
<circle cx="675.48" cy="119.90" r="2.85" fill="#1c5b94"/>
<circle cx="675.48" cy="134.30" r="2.85" fill="#1c5b94"/>
<circle cx="675.48" cy="137.40" r="2.85" fill="#23987e"/>
<circle cx="681.20" cy="118.10" r="2.85" fill="#973218"/>
<circle cx="681.20" cy="134.80" r="2.85" fill="#1c5b94"/>
<circle cx="681.20" cy="134.00" r="2.85" fill="#23987e"/>
<circle cx="681.20" cy="143.80" r="2.85" fill="#973218"/>
<circle cx="681.20" cy="155.90" r="2.85" fill="#973218"/>
<path d="M375.4,45.0 L684.5,45.0 L684.5,214.9 L375.4,214.9 Z" fill="none" stroke="#333333" stroke-width="1.2"/>
<line x1="372.4" y1="80.2" x2="375.4" y2="80.2" stroke="#333333" stroke-width="1.3"/>
<text x="371.79999999999995" y="83.9" text-anchor="end" font-size="12.3" fill="#151515">2</text>
<line x1="372.4" y1="128.2" x2="375.4" y2="128.2" stroke="#333333" stroke-width="1.3"/>
<text x="371.79999999999995" y="131.9" text-anchor="end" font-size="12.3" fill="#151515">0</text>
<line x1="372.4" y1="176.4" x2="375.4" y2="176.4" stroke="#333333" stroke-width="1.3"/>
<text x="371.79999999999995" y="180.10000000000002" text-anchor="end" font-size="12.3" fill="#151515">-2</text>
<line x1="378.30" y1="214.9" x2="378.30" y2="217.8" stroke="#1a1a1a" stroke-width="1.4"/>
<text transform="translate(380.78,219.6) rotate(-90)" text-anchor="end" font-size="6.9" font-style="italic" fill="#1a1a1a" stroke="#1a1a1a" stroke-width="0.1">Acsl4</text>
<line x1="384.02" y1="214.9" x2="384.02" y2="223.9" stroke="#1a1a1a" stroke-width="1.4"/>
<text transform="translate(386.50,225.3) rotate(-90)" text-anchor="end" font-size="6.9" font-style="italic" fill="#1a1a1a" stroke="#1a1a1a" stroke-width="0.1">Actn2</text>
<line x1="389.73" y1="214.9" x2="389.73" y2="217.8" stroke="#1a1a1a" stroke-width="1.4"/>
<text transform="translate(392.21,219.6) rotate(-90)" text-anchor="end" font-size="6.9" font-style="italic" fill="#1a1a1a" stroke="#1a1a1a" stroke-width="0.1">Actr3</text>
<line x1="395.45" y1="214.9" x2="395.45" y2="223.9" stroke="#1a1a1a" stroke-width="1.4"/>
<text transform="translate(397.93,225.3) rotate(-90)" text-anchor="end" font-size="6.9" font-style="italic" fill="#1a1a1a" stroke="#1a1a1a" stroke-width="0.1">Agt</text>
<line x1="401.16" y1="214.9" x2="401.16" y2="217.8" stroke="#1a1a1a" stroke-width="1.4"/>
<text transform="translate(403.64,219.6) rotate(-90)" text-anchor="end" font-size="6.9" font-style="italic" fill="#1a1a1a" stroke="#1a1a1a" stroke-width="0.1">Atf3</text>
<line x1="406.88" y1="214.9" x2="406.88" y2="223.9" stroke="#1a1a1a" stroke-width="1.4"/>
<text transform="translate(409.36,225.3) rotate(-90)" text-anchor="end" font-size="6.9" font-style="italic" fill="#1a1a1a" stroke="#1a1a1a" stroke-width="0.1">B4galt1</text>
<line x1="412.59" y1="214.9" x2="412.59" y2="217.8" stroke="#1a1a1a" stroke-width="1.4"/>
<text transform="translate(415.07,219.6) rotate(-90)" text-anchor="end" font-size="6.9" font-style="italic" fill="#1a1a1a" stroke="#1a1a1a" stroke-width="0.1">Bag3</text>
<line x1="418.31" y1="214.9" x2="418.31" y2="223.9" stroke="#1a1a1a" stroke-width="1.4"/>
<text transform="translate(420.79,225.3) rotate(-90)" text-anchor="end" font-size="6.9" font-style="italic" fill="#1a1a1a" stroke="#1a1a1a" stroke-width="0.1">Cald1</text>
<line x1="424.02" y1="214.9" x2="424.02" y2="217.8" stroke="#1a1a1a" stroke-width="1.4"/>
<text transform="translate(426.50,219.6) rotate(-90)" text-anchor="end" font-size="6.9" font-style="italic" fill="#1a1a1a" stroke="#1a1a1a" stroke-width="0.1">Cdkn1a</text>
<line x1="429.74" y1="214.9" x2="429.74" y2="223.9" stroke="#1a1a1a" stroke-width="1.4"/>
<text transform="translate(432.22,225.3) rotate(-90)" text-anchor="end" font-size="6.9" font-style="italic" fill="#1a1a1a" stroke="#1a1a1a" stroke-width="0.1">Cdon</text>
<line x1="435.45" y1="214.9" x2="435.45" y2="217.8" stroke="#1a1a1a" stroke-width="1.4"/>
<text transform="translate(437.93,219.6) rotate(-90)" text-anchor="end" font-size="6.9" font-style="italic" fill="#1a1a1a" stroke="#1a1a1a" stroke-width="0.1">Chac1</text>
<line x1="441.17" y1="214.9" x2="441.17" y2="223.9" stroke="#1a1a1a" stroke-width="1.4"/>
<text transform="translate(443.65,225.3) rotate(-90)" text-anchor="end" font-size="6.9" font-style="italic" fill="#1a1a1a" stroke="#1a1a1a" stroke-width="0.1">Chchd6</text>
<line x1="446.88" y1="214.9" x2="446.88" y2="217.8" stroke="#1a1a1a" stroke-width="1.4"/>
<text transform="translate(449.37,219.6) rotate(-90)" text-anchor="end" font-size="6.9" font-style="italic" fill="#1a1a1a" stroke="#1a1a1a" stroke-width="0.1">Cox7a2l</text>
<line x1="452.60" y1="214.9" x2="452.60" y2="223.9" stroke="#1a1a1a" stroke-width="1.4"/>
<text transform="translate(455.08,225.3) rotate(-90)" text-anchor="end" font-size="6.9" font-style="italic" fill="#1a1a1a" stroke="#1a1a1a" stroke-width="0.1">Creb3l1</text>
<line x1="458.31" y1="214.9" x2="458.31" y2="217.8" stroke="#1a1a1a" stroke-width="1.4"/>
<text transform="translate(460.80,219.6) rotate(-90)" text-anchor="end" font-size="6.9" font-style="italic" fill="#1a1a1a" stroke="#1a1a1a" stroke-width="0.1">Deptor</text>
<line x1="464.03" y1="214.9" x2="464.03" y2="223.9" stroke="#1a1a1a" stroke-width="1.4"/>
<text transform="translate(466.51,225.3) rotate(-90)" text-anchor="end" font-size="6.9" font-style="italic" fill="#1a1a1a" stroke="#1a1a1a" stroke-width="0.1">Dmpk</text>
<line x1="469.74" y1="214.9" x2="469.74" y2="217.8" stroke="#1a1a1a" stroke-width="1.4"/>
<text transform="translate(472.23,219.6) rotate(-90)" text-anchor="end" font-size="6.9" font-style="italic" fill="#1a1a1a" stroke="#1a1a1a" stroke-width="0.1">Gna13</text>
<line x1="475.46" y1="214.9" x2="475.46" y2="223.9" stroke="#1a1a1a" stroke-width="1.4"/>
<text transform="translate(477.94,225.3) rotate(-90)" text-anchor="end" font-size="6.9" font-style="italic" fill="#1a1a1a" stroke="#1a1a1a" stroke-width="0.1">Herpud1</text>
<line x1="481.17" y1="214.9" x2="481.17" y2="217.8" stroke="#1a1a1a" stroke-width="1.4"/>
<text transform="translate(483.66,219.6) rotate(-90)" text-anchor="end" font-size="6.9" font-style="italic" fill="#1a1a1a" stroke="#1a1a1a" stroke-width="0.1">Hspa1a</text>
<line x1="486.89" y1="214.9" x2="486.89" y2="223.9" stroke="#1a1a1a" stroke-width="1.4"/>
<text transform="translate(489.37,225.3) rotate(-90)" text-anchor="end" font-size="6.9" font-style="italic" fill="#1a1a1a" stroke="#1a1a1a" stroke-width="0.1">Hspa1b</text>
<line x1="492.60" y1="214.9" x2="492.60" y2="217.8" stroke="#1a1a1a" stroke-width="1.4"/>
<text transform="translate(495.09,219.6) rotate(-90)" text-anchor="end" font-size="6.9" font-style="italic" fill="#1a1a1a" stroke="#1a1a1a" stroke-width="0.1">Hspb7</text>
<line x1="498.32" y1="214.9" x2="498.32" y2="223.9" stroke="#1a1a1a" stroke-width="1.4"/>
<text transform="translate(500.80,225.3) rotate(-90)" text-anchor="end" font-size="6.9" font-style="italic" fill="#1a1a1a" stroke="#1a1a1a" stroke-width="0.1">Idh2</text>
<line x1="504.03" y1="214.9" x2="504.03" y2="217.8" stroke="#1a1a1a" stroke-width="1.4"/>
<text transform="translate(506.52,219.6) rotate(-90)" text-anchor="end" font-size="6.9" font-style="italic" fill="#1a1a1a" stroke="#1a1a1a" stroke-width="0.1">Irs1</text>
<line x1="509.75" y1="214.9" x2="509.75" y2="223.9" stroke="#1a1a1a" stroke-width="1.4"/>
<text transform="translate(512.23,225.3) rotate(-90)" text-anchor="end" font-size="6.9" font-style="italic" fill="#1a1a1a" stroke="#1a1a1a" stroke-width="0.1">Itga5</text>
<line x1="515.46" y1="214.9" x2="515.46" y2="217.8" stroke="#1a1a1a" stroke-width="1.4"/>
<text transform="translate(517.95,219.6) rotate(-90)" text-anchor="end" font-size="6.9" font-style="italic" fill="#1a1a1a" stroke="#1a1a1a" stroke-width="0.1">Itgav</text>
<line x1="521.18" y1="214.9" x2="521.18" y2="223.9" stroke="#1a1a1a" stroke-width="1.4"/>
<text transform="translate(523.66,225.3) rotate(-90)" text-anchor="end" font-size="6.9" font-style="italic" fill="#1a1a1a" stroke="#1a1a1a" stroke-width="0.1">Lep</text>
<line x1="526.89" y1="214.9" x2="526.89" y2="217.8" stroke="#1a1a1a" stroke-width="1.4"/>
<text transform="translate(529.38,219.6) rotate(-90)" text-anchor="end" font-size="6.9" font-style="italic" fill="#1a1a1a" stroke="#1a1a1a" stroke-width="0.1">Lipe</text>
<line x1="532.61" y1="214.9" x2="532.61" y2="223.9" stroke="#1a1a1a" stroke-width="1.4"/>
<text transform="translate(535.09,225.3) rotate(-90)" text-anchor="end" font-size="6.9" font-style="italic" fill="#1a1a1a" stroke="#1a1a1a" stroke-width="0.1">Lox</text>
<line x1="538.32" y1="214.9" x2="538.32" y2="217.8" stroke="#1a1a1a" stroke-width="1.4"/>
<text transform="translate(540.81,219.6) rotate(-90)" text-anchor="end" font-size="6.9" font-style="italic" fill="#1a1a1a" stroke="#1a1a1a" stroke-width="0.1">Mapkapk3</text>
<line x1="544.04" y1="214.9" x2="544.04" y2="223.9" stroke="#1a1a1a" stroke-width="1.4"/>
<text transform="translate(546.52,225.3) rotate(-90)" text-anchor="end" font-size="6.9" font-style="italic" fill="#1a1a1a" stroke="#1a1a1a" stroke-width="0.1">Mef2c</text>
<line x1="549.75" y1="214.9" x2="549.75" y2="217.8" stroke="#1a1a1a" stroke-width="1.4"/>
<text transform="translate(552.24,219.6) rotate(-90)" text-anchor="end" font-size="6.9" font-style="italic" fill="#1a1a1a" stroke="#1a1a1a" stroke-width="0.1">Mlycd</text>
<line x1="555.47" y1="214.9" x2="555.47" y2="223.9" stroke="#1a1a1a" stroke-width="1.4"/>
<text transform="translate(557.95,225.3) rotate(-90)" text-anchor="end" font-size="6.9" font-style="italic" fill="#1a1a1a" stroke="#1a1a1a" stroke-width="0.1">Myl2</text>
<line x1="561.18" y1="214.9" x2="561.18" y2="217.8" stroke="#1a1a1a" stroke-width="1.4"/>
<text transform="translate(563.67,219.6) rotate(-90)" text-anchor="end" font-size="6.9" font-style="italic" fill="#1a1a1a" stroke="#1a1a1a" stroke-width="0.1">Myl3</text>
<line x1="566.90" y1="214.9" x2="566.90" y2="223.9" stroke="#1a1a1a" stroke-width="1.4"/>
<text transform="translate(569.38,225.3) rotate(-90)" text-anchor="end" font-size="6.9" font-style="italic" fill="#1a1a1a" stroke="#1a1a1a" stroke-width="0.1">Mylk4</text>
<line x1="572.61" y1="214.9" x2="572.61" y2="217.8" stroke="#1a1a1a" stroke-width="1.4"/>
<text transform="translate(575.10,219.6) rotate(-90)" text-anchor="end" font-size="6.9" font-style="italic" fill="#1a1a1a" stroke="#1a1a1a" stroke-width="0.1">Myocd</text>
<line x1="578.33" y1="214.9" x2="578.33" y2="223.9" stroke="#1a1a1a" stroke-width="1.4"/>
<text transform="translate(580.81,225.3) rotate(-90)" text-anchor="end" font-size="6.9" font-style="italic" fill="#1a1a1a" stroke="#1a1a1a" stroke-width="0.1">Ndufa13</text>
<line x1="584.04" y1="214.9" x2="584.04" y2="217.8" stroke="#1a1a1a" stroke-width="1.4"/>
<text transform="translate(586.53,219.6) rotate(-90)" text-anchor="end" font-size="6.9" font-style="italic" fill="#1a1a1a" stroke="#1a1a1a" stroke-width="0.1">Nup133</text>
<line x1="589.76" y1="214.9" x2="589.76" y2="223.9" stroke="#1a1a1a" stroke-width="1.4"/>
<text transform="translate(592.24,225.3) rotate(-90)" text-anchor="end" font-size="6.9" font-style="italic" fill="#1a1a1a" stroke="#1a1a1a" stroke-width="0.1">Pdx1</text>
<line x1="595.47" y1="214.9" x2="595.47" y2="217.8" stroke="#1a1a1a" stroke-width="1.4"/>
<text transform="translate(597.96,219.6) rotate(-90)" text-anchor="end" font-size="6.9" font-style="italic" fill="#1a1a1a" stroke="#1a1a1a" stroke-width="0.1">Pfkfb1</text>
<line x1="601.19" y1="214.9" x2="601.19" y2="223.9" stroke="#1a1a1a" stroke-width="1.4"/>
<text transform="translate(603.67,225.3) rotate(-90)" text-anchor="end" font-size="6.9" font-style="italic" fill="#1a1a1a" stroke="#1a1a1a" stroke-width="0.1">Pfkfb4</text>
<line x1="606.90" y1="214.9" x2="606.90" y2="217.8" stroke="#1a1a1a" stroke-width="1.4"/>
<text transform="translate(609.39,219.6) rotate(-90)" text-anchor="end" font-size="6.9" font-style="italic" fill="#1a1a1a" stroke="#1a1a1a" stroke-width="0.1">Pik3ca</text>
<line x1="612.62" y1="214.9" x2="612.62" y2="223.9" stroke="#1a1a1a" stroke-width="1.4"/>
<text transform="translate(615.10,225.3) rotate(-90)" text-anchor="end" font-size="6.9" font-style="italic" fill="#1a1a1a" stroke="#1a1a1a" stroke-width="0.1">Plin4</text>
<line x1="618.33" y1="214.9" x2="618.33" y2="217.8" stroke="#1a1a1a" stroke-width="1.4"/>
<text transform="translate(620.82,219.6) rotate(-90)" text-anchor="end" font-size="6.9" font-style="italic" fill="#1a1a1a" stroke="#1a1a1a" stroke-width="0.1">Ppp2r5a</text>
<line x1="624.05" y1="214.9" x2="624.05" y2="223.9" stroke="#1a1a1a" stroke-width="1.4"/>
<text transform="translate(626.53,225.3) rotate(-90)" text-anchor="end" font-size="6.9" font-style="italic" fill="#1a1a1a" stroke="#1a1a1a" stroke-width="0.1">Slc27a1</text>
<line x1="629.76" y1="214.9" x2="629.76" y2="217.8" stroke="#1a1a1a" stroke-width="1.4"/>
<text transform="translate(632.25,219.6) rotate(-90)" text-anchor="end" font-size="6.9" font-style="italic" fill="#1a1a1a" stroke="#1a1a1a" stroke-width="0.1">Slc8a3</text>
<line x1="635.48" y1="214.9" x2="635.48" y2="223.9" stroke="#1a1a1a" stroke-width="1.4"/>
<text transform="translate(637.96,225.3) rotate(-90)" text-anchor="end" font-size="6.9" font-style="italic" fill="#1a1a1a" stroke="#1a1a1a" stroke-width="0.1">Syne1</text>
<line x1="641.19" y1="214.9" x2="641.19" y2="217.8" stroke="#1a1a1a" stroke-width="1.4"/>
<text transform="translate(643.68,219.6) rotate(-90)" text-anchor="end" font-size="6.9" font-style="italic" fill="#1a1a1a" stroke="#1a1a1a" stroke-width="0.1">Tbc1d7</text>
<line x1="646.91" y1="214.9" x2="646.91" y2="223.9" stroke="#1a1a1a" stroke-width="1.4"/>
<text transform="translate(649.39,225.3) rotate(-90)" text-anchor="end" font-size="6.9" font-style="italic" fill="#1a1a1a" stroke="#1a1a1a" stroke-width="0.1">Tcap</text>
<line x1="652.62" y1="214.9" x2="652.62" y2="217.8" stroke="#1a1a1a" stroke-width="1.4"/>
<text transform="translate(655.11,219.6) rotate(-90)" text-anchor="end" font-size="6.9" font-style="italic" fill="#1a1a1a" stroke="#1a1a1a" stroke-width="0.1">Tnik</text>
<line x1="658.34" y1="214.9" x2="658.34" y2="223.9" stroke="#1a1a1a" stroke-width="1.4"/>
<text transform="translate(660.82,225.3) rotate(-90)" text-anchor="end" font-size="6.9" font-style="italic" fill="#1a1a1a" stroke="#1a1a1a" stroke-width="0.1">Tnnt1</text>
<line x1="664.05" y1="214.9" x2="664.05" y2="217.8" stroke="#1a1a1a" stroke-width="1.4"/>
<text transform="translate(666.54,219.6) rotate(-90)" text-anchor="end" font-size="6.9" font-style="italic" fill="#1a1a1a" stroke="#1a1a1a" stroke-width="0.1">Trim72</text>
<line x1="669.77" y1="214.9" x2="669.77" y2="223.9" stroke="#1a1a1a" stroke-width="1.4"/>
<text transform="translate(672.25,225.3) rotate(-90)" text-anchor="end" font-size="6.9" font-style="italic" fill="#1a1a1a" stroke="#1a1a1a" stroke-width="0.1">Trp53</text>
<line x1="675.48" y1="214.9" x2="675.48" y2="217.8" stroke="#1a1a1a" stroke-width="1.4"/>
<text transform="translate(677.97,219.6) rotate(-90)" text-anchor="end" font-size="6.9" font-style="italic" fill="#1a1a1a" stroke="#1a1a1a" stroke-width="0.1">Trpm7</text>
<line x1="681.20" y1="214.9" x2="681.20" y2="223.9" stroke="#1a1a1a" stroke-width="1.4"/>
<text transform="translate(683.68,225.3) rotate(-90)" text-anchor="end" font-size="6.9" font-style="italic" fill="#1a1a1a" stroke="#1a1a1a" stroke-width="0.1">Vegfb</text>
<text x="2.9" y="338.6" font-size="16" font-weight="bold" fill="#000">c</text>
<text transform="translate(11.0,421.4) rotate(-90)" text-anchor="middle" font-size="13.5" font-weight="bold" fill="#000">LogFC</text>
<line x1="31.3" y1="438.2" x2="339.5" y2="438.2" stroke="#1a1a1a" stroke-width="1.6"/>
<line x1="37.20" y1="438.20" x2="37.20" y2="503.70" stroke="#1a1a1a" stroke-width="1.6"/>
<line x1="48.16" y1="438.20" x2="48.16" y2="492.80" stroke="#1a1a1a" stroke-width="1.6"/>
<line x1="59.12" y1="438.20" x2="59.12" y2="476.40" stroke="#1a1a1a" stroke-width="1.6"/>
<line x1="70.08" y1="388.40" x2="70.08" y2="438.20" stroke="#1a1a1a" stroke-width="1.6"/>
<line x1="81.04" y1="399.20" x2="81.04" y2="438.20" stroke="#1a1a1a" stroke-width="1.6"/>
<line x1="92.00" y1="412.60" x2="92.00" y2="438.20" stroke="#1a1a1a" stroke-width="1.6"/>
<line x1="102.96" y1="406.40" x2="102.96" y2="438.20" stroke="#1a1a1a" stroke-width="1.6"/>
<line x1="113.91" y1="397.10" x2="113.91" y2="438.20" stroke="#1a1a1a" stroke-width="1.6"/>
<line x1="124.87" y1="438.20" x2="124.87" y2="494.60" stroke="#1a1a1a" stroke-width="1.6"/>
<line x1="135.83" y1="391.30" x2="135.83" y2="438.20" stroke="#1a1a1a" stroke-width="1.6"/>
<line x1="146.79" y1="390.30" x2="146.79" y2="438.20" stroke="#1a1a1a" stroke-width="1.6"/>
<line x1="157.75" y1="396.50" x2="157.75" y2="438.20" stroke="#1a1a1a" stroke-width="1.6"/>
<line x1="168.71" y1="438.20" x2="168.71" y2="507.10" stroke="#1a1a1a" stroke-width="1.6"/>
<line x1="179.67" y1="438.20" x2="179.67" y2="488.70" stroke="#1a1a1a" stroke-width="1.6"/>
<line x1="190.63" y1="395.60" x2="190.63" y2="438.20" stroke="#1a1a1a" stroke-width="1.6"/>
<line x1="201.59" y1="375.10" x2="201.59" y2="438.20" stroke="#1a1a1a" stroke-width="1.6"/>
<line x1="212.55" y1="351.40" x2="212.55" y2="438.20" stroke="#1a1a1a" stroke-width="1.6"/>
<line x1="223.51" y1="438.20" x2="223.51" y2="505.60" stroke="#1a1a1a" stroke-width="1.6"/>
<line x1="234.47" y1="411.70" x2="234.47" y2="438.20" stroke="#1a1a1a" stroke-width="1.6"/>
<line x1="245.43" y1="407.90" x2="245.43" y2="438.20" stroke="#1a1a1a" stroke-width="1.6"/>
<line x1="256.39" y1="414.00" x2="256.39" y2="438.20" stroke="#1a1a1a" stroke-width="1.6"/>
<line x1="267.34" y1="361.10" x2="267.34" y2="438.20" stroke="#1a1a1a" stroke-width="1.6"/>
<line x1="278.30" y1="409.80" x2="278.30" y2="438.20" stroke="#1a1a1a" stroke-width="1.6"/>
<line x1="289.26" y1="399.70" x2="289.26" y2="438.20" stroke="#1a1a1a" stroke-width="1.6"/>
<line x1="300.22" y1="407.20" x2="300.22" y2="438.20" stroke="#1a1a1a" stroke-width="1.6"/>
<line x1="311.18" y1="438.20" x2="311.18" y2="474.30" stroke="#1a1a1a" stroke-width="1.6"/>
<line x1="322.14" y1="402.10" x2="322.14" y2="438.20" stroke="#1a1a1a" stroke-width="1.6"/>
<line x1="333.10" y1="403.10" x2="333.10" y2="438.20" stroke="#1a1a1a" stroke-width="1.6"/>
<circle cx="37.20" cy="478.10" r="2.85" fill="#8e7622"/>
<circle cx="37.20" cy="503.70" r="2.85" fill="#5656b4"/>
<circle cx="48.16" cy="492.80" r="2.85" fill="#5656b4"/>
<circle cx="59.12" cy="476.40" r="2.85" fill="#5656b4"/>
<circle cx="70.08" cy="388.40" r="2.85" fill="#8e7622"/>
<circle cx="70.08" cy="410.20" r="2.85" fill="#5656b4"/>
<circle cx="81.04" cy="399.20" r="2.85" fill="#5f9b29"/>
<circle cx="92.00" cy="412.60" r="2.85" fill="#8e7622"/>
<circle cx="102.96" cy="406.40" r="2.85" fill="#8e7622"/>
<circle cx="113.91" cy="397.10" r="2.85" fill="#8e7622"/>
<circle cx="113.91" cy="409.10" r="2.85" fill="#5656b4"/>
<circle cx="124.87" cy="480.40" r="2.85" fill="#8e7622"/>
<circle cx="124.87" cy="494.60" r="2.85" fill="#5f9b29"/>
<circle cx="135.83" cy="391.30" r="2.85" fill="#8e7622"/>
<circle cx="135.83" cy="400.10" r="2.85" fill="#5656b4"/>
<circle cx="146.79" cy="390.30" r="2.85" fill="#5656b4"/>
<circle cx="157.75" cy="396.50" r="2.85" fill="#5f9b29"/>
<circle cx="157.75" cy="398.50" r="2.85" fill="#5f9b29"/>
<circle cx="168.71" cy="507.10" r="2.85" fill="#8e7622"/>
<circle cx="179.67" cy="465.10" r="2.85" fill="#8e7622"/>
<circle cx="179.67" cy="488.70" r="2.85" fill="#5656b4"/>
<circle cx="190.63" cy="395.60" r="2.85" fill="#8e7622"/>
<circle cx="201.59" cy="375.10" r="2.85" fill="#8e7622"/>
<circle cx="212.55" cy="351.40" r="2.85" fill="#8e7622"/>
<circle cx="223.51" cy="465.80" r="2.85" fill="#8e7622"/>
<circle cx="223.51" cy="488.90" r="2.85" fill="#5656b4"/>
<circle cx="223.51" cy="505.60" r="2.85" fill="#5f9b29"/>
<circle cx="234.47" cy="411.70" r="2.85" fill="#8e7622"/>
<circle cx="245.43" cy="407.90" r="2.85" fill="#8e7622"/>
<circle cx="256.39" cy="414.00" r="2.85" fill="#5656b4"/>
<circle cx="267.34" cy="361.10" r="2.85" fill="#5f9b29"/>
<circle cx="267.34" cy="401.80" r="2.85" fill="#8e7622"/>
<circle cx="267.34" cy="399.50" r="2.85" fill="#5656b4"/>
<circle cx="278.30" cy="409.80" r="2.85" fill="#8e7622"/>
<circle cx="289.26" cy="399.70" r="2.85" fill="#8e7622"/>
<circle cx="300.22" cy="407.20" r="2.85" fill="#8e7622"/>
<circle cx="311.18" cy="472.90" r="2.85" fill="#8e7622"/>
<circle cx="311.18" cy="474.30" r="2.85" fill="#5656b4"/>
<circle cx="322.14" cy="402.10" r="2.85" fill="#8e7622"/>
<circle cx="333.10" cy="403.10" r="2.85" fill="#8e7622"/>
<path d="M31.3,344.0 L339.5,344.0 L339.5,514.8 L31.3,514.8 Z" fill="none" stroke="#333333" stroke-width="1.2"/>
<line x1="28.400000000000002" y1="345.5" x2="31.3" y2="345.5" stroke="#333333" stroke-width="1.3"/>
<text x="28.1" y="350.7" text-anchor="end" font-size="12.3" fill="#151515">0.8</text>
<line x1="28.400000000000002" y1="391.9" x2="31.3" y2="391.9" stroke="#333333" stroke-width="1.3"/>
<text x="28.1" y="397.09999999999997" text-anchor="end" font-size="12.3" fill="#151515">0.4</text>
<line x1="28.400000000000002" y1="438.2" x2="31.3" y2="438.2" stroke="#333333" stroke-width="1.3"/>
<text x="28.1" y="443.4" text-anchor="end" font-size="12.3" fill="#151515">0</text>
<line x1="28.400000000000002" y1="484.4" x2="31.3" y2="484.4" stroke="#333333" stroke-width="1.3"/>
<text x="28.1" y="489.59999999999997" text-anchor="end" font-size="12.3" fill="#151515">-0.4</text>
<line x1="37.20" y1="514.8" x2="37.20" y2="517.2" stroke="#1a1a1a" stroke-width="1.4"/>
<text transform="translate(39.74,518.0) rotate(-90)" text-anchor="end" font-size="7.05" font-style="italic" fill="#1a1a1a" stroke="#1a1a1a" stroke-width="0.1">ALAS1</text>
<line x1="48.16" y1="514.8" x2="48.16" y2="524.5" stroke="#1a1a1a" stroke-width="1.4"/>
<text transform="translate(50.70,525.5) rotate(-90)" text-anchor="end" font-size="7.05" font-style="italic" fill="#1a1a1a" stroke="#1a1a1a" stroke-width="0.1">BHLHE41</text>
<line x1="59.12" y1="514.8" x2="59.12" y2="517.2" stroke="#1a1a1a" stroke-width="1.4"/>
<text transform="translate(61.66,518.0) rotate(-90)" text-anchor="end" font-size="7.05" font-style="italic" fill="#1a1a1a" stroke="#1a1a1a" stroke-width="0.1">CALU</text>
<line x1="70.08" y1="514.8" x2="70.08" y2="524.5" stroke="#1a1a1a" stroke-width="1.4"/>
<text transform="translate(72.62,525.5) rotate(-90)" text-anchor="end" font-size="7.05" font-style="italic" fill="#1a1a1a" stroke="#1a1a1a" stroke-width="0.1">CLK1</text>
<line x1="81.04" y1="514.8" x2="81.04" y2="517.2" stroke="#1a1a1a" stroke-width="1.4"/>
<text transform="translate(83.58,518.0) rotate(-90)" text-anchor="end" font-size="7.05" font-style="italic" fill="#1a1a1a" stroke="#1a1a1a" stroke-width="0.1">CREBBP</text>
<line x1="92.00" y1="514.8" x2="92.00" y2="524.5" stroke="#1a1a1a" stroke-width="1.4"/>
<text transform="translate(94.53,525.5) rotate(-90)" text-anchor="end" font-size="7.05" font-style="italic" fill="#1a1a1a" stroke="#1a1a1a" stroke-width="0.1">DHX9</text>
<line x1="102.96" y1="514.8" x2="102.96" y2="517.2" stroke="#1a1a1a" stroke-width="1.4"/>
<text transform="translate(105.49,518.0) rotate(-90)" text-anchor="end" font-size="7.05" font-style="italic" fill="#1a1a1a" stroke="#1a1a1a" stroke-width="0.1">FBXL3</text>
<line x1="113.91" y1="514.8" x2="113.91" y2="524.5" stroke="#1a1a1a" stroke-width="1.4"/>
<text transform="translate(116.45,525.5) rotate(-90)" text-anchor="end" font-size="7.05" font-style="italic" fill="#1a1a1a" stroke="#1a1a1a" stroke-width="0.1">HBP1</text>
<line x1="124.87" y1="514.8" x2="124.87" y2="517.2" stroke="#1a1a1a" stroke-width="1.4"/>
<text transform="translate(127.41,518.0) rotate(-90)" text-anchor="end" font-size="7.05" font-style="italic" fill="#1a1a1a" stroke="#1a1a1a" stroke-width="0.1">HIPK2</text>
<line x1="135.83" y1="514.8" x2="135.83" y2="524.5" stroke="#1a1a1a" stroke-width="1.4"/>
<text transform="translate(138.37,525.5) rotate(-90)" text-anchor="end" font-size="7.05" font-style="italic" fill="#1a1a1a" stroke="#1a1a1a" stroke-width="0.1">HNRNPM</text>
<line x1="146.79" y1="514.8" x2="146.79" y2="517.2" stroke="#1a1a1a" stroke-width="1.4"/>
<text transform="translate(149.33,518.0) rotate(-90)" text-anchor="end" font-size="7.05" font-style="italic" fill="#1a1a1a" stroke="#1a1a1a" stroke-width="0.1">NCOA3</text>
<line x1="157.75" y1="514.8" x2="157.75" y2="524.5" stroke="#1a1a1a" stroke-width="1.4"/>
<text transform="translate(160.29,525.5) rotate(-90)" text-anchor="end" font-size="7.05" font-style="italic" fill="#1a1a1a" stroke="#1a1a1a" stroke-width="0.1">NFAT5</text>
<line x1="168.71" y1="514.8" x2="168.71" y2="517.2" stroke="#1a1a1a" stroke-width="1.4"/>
<text transform="translate(171.25,518.0) rotate(-90)" text-anchor="end" font-size="7.05" font-style="italic" fill="#1a1a1a" stroke="#1a1a1a" stroke-width="0.1">NFIL3</text>
<line x1="179.67" y1="514.8" x2="179.67" y2="524.5" stroke="#1a1a1a" stroke-width="1.4"/>
<text transform="translate(182.21,525.5) rotate(-90)" text-anchor="end" font-size="7.05" font-style="italic" fill="#1a1a1a" stroke="#1a1a1a" stroke-width="0.1">NPAS2</text>
<line x1="190.63" y1="514.8" x2="190.63" y2="517.2" stroke="#1a1a1a" stroke-width="1.4"/>
<text transform="translate(193.17,518.0) rotate(-90)" text-anchor="end" font-size="7.05" font-style="italic" fill="#1a1a1a" stroke="#1a1a1a" stroke-width="0.1">PER1</text>
<line x1="201.59" y1="514.8" x2="201.59" y2="524.5" stroke="#1a1a1a" stroke-width="1.4"/>
<text transform="translate(204.13,525.5) rotate(-90)" text-anchor="end" font-size="7.05" font-style="italic" fill="#1a1a1a" stroke="#1a1a1a" stroke-width="0.1">PER2</text>
<line x1="212.55" y1="514.8" x2="212.55" y2="517.2" stroke="#1a1a1a" stroke-width="1.4"/>
<text transform="translate(215.09,518.0) rotate(-90)" text-anchor="end" font-size="7.05" font-style="italic" fill="#1a1a1a" stroke="#1a1a1a" stroke-width="0.1">PER3</text>
<line x1="223.51" y1="514.8" x2="223.51" y2="524.5" stroke="#1a1a1a" stroke-width="1.4"/>
<text transform="translate(226.05,525.5) rotate(-90)" text-anchor="end" font-size="7.05" font-style="italic" fill="#1a1a1a" stroke="#1a1a1a" stroke-width="0.1">PPARA</text>
<line x1="234.47" y1="514.8" x2="234.47" y2="517.2" stroke="#1a1a1a" stroke-width="1.4"/>
<text transform="translate(237.00,518.0) rotate(-90)" text-anchor="end" font-size="7.05" font-style="italic" fill="#1a1a1a" stroke="#1a1a1a" stroke-width="0.1">PRKAA1</text>
<line x1="245.43" y1="514.8" x2="245.43" y2="524.5" stroke="#1a1a1a" stroke-width="1.4"/>
<text transform="translate(247.96,525.5) rotate(-90)" text-anchor="end" font-size="7.05" font-style="italic" fill="#1a1a1a" stroke="#1a1a1a" stroke-width="0.1">PTGES3</text>
<line x1="256.39" y1="514.8" x2="256.39" y2="517.2" stroke="#1a1a1a" stroke-width="1.4"/>
<text transform="translate(258.92,518.0) rotate(-90)" text-anchor="end" font-size="7.05" font-style="italic" fill="#1a1a1a" stroke="#1a1a1a" stroke-width="0.1">RBM14</text>
<line x1="267.34" y1="514.8" x2="267.34" y2="524.5" stroke="#1a1a1a" stroke-width="1.4"/>
<text transform="translate(269.88,525.5) rotate(-90)" text-anchor="end" font-size="7.05" font-style="italic" fill="#1a1a1a" stroke="#1a1a1a" stroke-width="0.1">RORA</text>
<line x1="278.30" y1="514.8" x2="278.30" y2="517.2" stroke="#1a1a1a" stroke-width="1.4"/>
<text transform="translate(280.84,518.0) rotate(-90)" text-anchor="end" font-size="7.05" font-style="italic" fill="#1a1a1a" stroke="#1a1a1a" stroke-width="0.1">SIRT1</text>
<line x1="289.26" y1="514.8" x2="289.26" y2="524.5" stroke="#1a1a1a" stroke-width="1.4"/>
<text transform="translate(291.80,525.5) rotate(-90)" text-anchor="end" font-size="7.05" font-style="italic" fill="#1a1a1a" stroke="#1a1a1a" stroke-width="0.1">TNKS</text>
<line x1="300.22" y1="514.8" x2="300.22" y2="517.2" stroke="#1a1a1a" stroke-width="1.4"/>
<text transform="translate(302.76,518.0) rotate(-90)" text-anchor="end" font-size="7.05" font-style="italic" fill="#1a1a1a" stroke="#1a1a1a" stroke-width="0.1">USO1</text>
<line x1="311.18" y1="514.8" x2="311.18" y2="524.5" stroke="#1a1a1a" stroke-width="1.4"/>
<text transform="translate(313.72,525.5) rotate(-90)" text-anchor="end" font-size="7.05" font-style="italic" fill="#1a1a1a" stroke="#1a1a1a" stroke-width="0.1">WNK1</text>
<line x1="322.14" y1="514.8" x2="322.14" y2="517.2" stroke="#1a1a1a" stroke-width="1.4"/>
<text transform="translate(324.68,518.0) rotate(-90)" text-anchor="end" font-size="7.05" font-style="italic" fill="#1a1a1a" stroke="#1a1a1a" stroke-width="0.1">WRN</text>
<line x1="333.10" y1="514.8" x2="333.10" y2="524.5" stroke="#1a1a1a" stroke-width="1.4"/>
<text transform="translate(335.64,525.5) rotate(-90)" text-anchor="end" font-size="7.05" font-style="italic" fill="#1a1a1a" stroke="#1a1a1a" stroke-width="0.1">XRN1</text>
<text x="346.8" y="338.6" font-size="16" font-weight="bold" fill="#000">d</text>
<text transform="translate(354.3,429.1) rotate(-90)" text-anchor="middle" font-size="13.5" font-weight="bold" fill="#000">LogFC</text>
<line x1="373.5" y1="421.2" x2="683.5" y2="421.2" stroke="#1a1a1a" stroke-width="1.6"/>
<line x1="378.20" y1="421.20" x2="378.20" y2="439.50" stroke="#1a1a1a" stroke-width="1.6"/>
<line x1="386.34" y1="421.20" x2="386.34" y2="464.90" stroke="#1a1a1a" stroke-width="1.6"/>
<line x1="394.49" y1="375.30" x2="394.49" y2="421.20" stroke="#1a1a1a" stroke-width="1.6"/>
<line x1="402.63" y1="400.90" x2="402.63" y2="421.20" stroke="#1a1a1a" stroke-width="1.6"/>
<line x1="410.77" y1="421.20" x2="410.77" y2="507.80" stroke="#1a1a1a" stroke-width="1.6"/>
<line x1="418.92" y1="421.20" x2="418.92" y2="451.80" stroke="#1a1a1a" stroke-width="1.6"/>
<line x1="427.06" y1="421.20" x2="427.06" y2="461.00" stroke="#1a1a1a" stroke-width="1.6"/>
<line x1="435.20" y1="382.60" x2="435.20" y2="421.20" stroke="#1a1a1a" stroke-width="1.6"/>
<line x1="443.35" y1="421.20" x2="443.35" y2="445.40" stroke="#1a1a1a" stroke-width="1.6"/>
<line x1="451.49" y1="402.50" x2="451.49" y2="421.20" stroke="#1a1a1a" stroke-width="1.6"/>
<line x1="459.63" y1="351.30" x2="459.63" y2="421.20" stroke="#1a1a1a" stroke-width="1.6"/>
<line x1="467.78" y1="421.20" x2="467.78" y2="448.20" stroke="#1a1a1a" stroke-width="1.6"/>
<line x1="475.92" y1="389.40" x2="475.92" y2="421.20" stroke="#1a1a1a" stroke-width="1.6"/>
<line x1="484.06" y1="421.20" x2="484.06" y2="458.80" stroke="#1a1a1a" stroke-width="1.6"/>
<line x1="492.21" y1="399.50" x2="492.21" y2="421.20" stroke="#1a1a1a" stroke-width="1.6"/>
<line x1="500.35" y1="421.20" x2="500.35" y2="443.00" stroke="#1a1a1a" stroke-width="1.6"/>
<line x1="508.49" y1="421.20" x2="508.49" y2="443.20" stroke="#1a1a1a" stroke-width="1.6"/>
<line x1="516.64" y1="384.00" x2="516.64" y2="453.10" stroke="#1a1a1a" stroke-width="1.6"/>
<line x1="524.78" y1="421.20" x2="524.78" y2="449.90" stroke="#1a1a1a" stroke-width="1.6"/>
<line x1="532.92" y1="400.60" x2="532.92" y2="421.20" stroke="#1a1a1a" stroke-width="1.6"/>
<line x1="541.06" y1="421.20" x2="541.06" y2="500.40" stroke="#1a1a1a" stroke-width="1.6"/>
<line x1="549.21" y1="421.20" x2="549.21" y2="470.60" stroke="#1a1a1a" stroke-width="1.6"/>
<line x1="557.35" y1="421.20" x2="557.35" y2="488.10" stroke="#1a1a1a" stroke-width="1.6"/>
<line x1="565.49" y1="366.70" x2="565.49" y2="421.20" stroke="#1a1a1a" stroke-width="1.6"/>
<line x1="573.64" y1="421.20" x2="573.64" y2="438.40" stroke="#1a1a1a" stroke-width="1.6"/>
<line x1="581.78" y1="421.20" x2="581.78" y2="458.50" stroke="#1a1a1a" stroke-width="1.6"/>
<line x1="589.92" y1="397.30" x2="589.92" y2="421.20" stroke="#1a1a1a" stroke-width="1.6"/>
<line x1="598.07" y1="421.20" x2="598.07" y2="438.80" stroke="#1a1a1a" stroke-width="1.6"/>
<line x1="606.21" y1="394.70" x2="606.21" y2="421.20" stroke="#1a1a1a" stroke-width="1.6"/>
<line x1="614.35" y1="421.20" x2="614.35" y2="475.80" stroke="#1a1a1a" stroke-width="1.6"/>
<line x1="622.50" y1="421.20" x2="622.50" y2="458.30" stroke="#1a1a1a" stroke-width="1.6"/>
<line x1="630.64" y1="421.20" x2="630.64" y2="448.20" stroke="#1a1a1a" stroke-width="1.6"/>
<line x1="638.78" y1="380.00" x2="638.78" y2="421.20" stroke="#1a1a1a" stroke-width="1.6"/>
<line x1="646.93" y1="421.20" x2="646.93" y2="448.90" stroke="#1a1a1a" stroke-width="1.6"/>
<line x1="655.07" y1="386.40" x2="655.07" y2="421.20" stroke="#1a1a1a" stroke-width="1.6"/>
<line x1="663.21" y1="421.20" x2="663.21" y2="445.50" stroke="#1a1a1a" stroke-width="1.6"/>
<line x1="671.36" y1="393.10" x2="671.36" y2="421.20" stroke="#1a1a1a" stroke-width="1.6"/>
<line x1="679.50" y1="421.20" x2="679.50" y2="451.90" stroke="#1a1a1a" stroke-width="1.6"/>
<circle cx="378.20" cy="439.50" r="2.85" fill="#8e7622"/>
<circle cx="386.34" cy="446.30" r="2.85" fill="#8e7622"/>
<circle cx="386.34" cy="453.90" r="2.85" fill="#5f9b29"/>
<circle cx="386.34" cy="464.90" r="2.85" fill="#5656b4"/>
<circle cx="394.49" cy="375.30" r="2.85" fill="#5f9b29"/>
<circle cx="402.63" cy="400.90" r="2.85" fill="#8e7622"/>
<circle cx="410.77" cy="469.00" r="2.85" fill="#8e7622"/>
<circle cx="410.77" cy="507.80" r="2.85" fill="#5656b4"/>
<circle cx="418.92" cy="443.40" r="2.85" fill="#8e7622"/>
<circle cx="418.92" cy="451.80" r="2.85" fill="#5656b4"/>
<circle cx="427.06" cy="453.40" r="2.85" fill="#5f9b29"/>
<circle cx="427.06" cy="461.00" r="2.85" fill="#5f9b29"/>
<circle cx="435.20" cy="382.60" r="2.85" fill="#5656b4"/>
<circle cx="443.35" cy="445.40" r="2.85" fill="#5656b4"/>
<circle cx="451.49" cy="402.50" r="2.85" fill="#5f9b29"/>
<circle cx="459.63" cy="351.30" r="2.85" fill="#5656b4"/>
<circle cx="467.78" cy="448.20" r="2.85" fill="#5f9b29"/>
<circle cx="475.92" cy="389.40" r="2.85" fill="#8e7622"/>
<circle cx="484.06" cy="458.80" r="2.85" fill="#5656b4"/>
<circle cx="492.21" cy="399.50" r="2.85" fill="#8e7622"/>
<circle cx="500.35" cy="437.80" r="2.85" fill="#8e7622"/>
<circle cx="500.35" cy="443.00" r="2.85" fill="#5656b4"/>
<circle cx="508.49" cy="443.20" r="2.85" fill="#8e7622"/>
<circle cx="516.64" cy="384.00" r="2.85" fill="#6ea6d6"/>
<circle cx="516.64" cy="453.10" r="2.85" fill="#5656b4"/>
<circle cx="524.78" cy="443.00" r="2.85" fill="#8e7622"/>
<circle cx="524.78" cy="449.90" r="2.85" fill="#5656b4"/>
<circle cx="532.92" cy="400.60" r="2.85" fill="#5f9b29"/>
<circle cx="541.06" cy="451.00" r="2.85" fill="#8e7622"/>
<circle cx="541.06" cy="500.40" r="2.85" fill="#5f9b29"/>
<circle cx="549.21" cy="470.60" r="2.85" fill="#5f9b29"/>
<circle cx="557.35" cy="445.50" r="2.85" fill="#6ea6d6"/>
<circle cx="557.35" cy="472.70" r="2.85" fill="#8e7622"/>
<circle cx="557.35" cy="485.00" r="2.85" fill="#5f9b29"/>
<circle cx="557.35" cy="488.10" r="2.85" fill="#5656b4"/>
<circle cx="565.49" cy="366.70" r="2.85" fill="#6ea6d6"/>
<circle cx="573.64" cy="438.40" r="2.85" fill="#5f9b29"/>
<circle cx="581.78" cy="439.80" r="2.85" fill="#5f9b29"/>
<circle cx="581.78" cy="440.90" r="2.85" fill="#8e7622"/>
<circle cx="581.78" cy="443.80" r="2.85" fill="#5656b4"/>
<circle cx="581.78" cy="458.50" r="2.85" fill="#5f9b29"/>
<circle cx="589.92" cy="397.30" r="2.85" fill="#8e7622"/>
<circle cx="598.07" cy="438.80" r="2.85" fill="#5656b4"/>
<circle cx="606.21" cy="394.70" r="2.85" fill="#8e7622"/>
<circle cx="614.35" cy="436.60" r="2.85" fill="#8e7622"/>
<circle cx="614.35" cy="475.80" r="2.85" fill="#5656b4"/>
<circle cx="622.50" cy="458.30" r="2.85" fill="#5656b4"/>
<circle cx="630.64" cy="448.20" r="2.85" fill="#8e7622"/>
<circle cx="638.78" cy="380.00" r="2.85" fill="#8e7622"/>
<circle cx="646.93" cy="448.90" r="2.85" fill="#5656b4"/>
<circle cx="655.07" cy="386.40" r="2.85" fill="#8e7622"/>
<circle cx="655.07" cy="401.80" r="2.85" fill="#5656b4"/>
<circle cx="663.21" cy="445.50" r="2.85" fill="#8e7622"/>
<circle cx="671.36" cy="393.10" r="2.85" fill="#5f9b29"/>
<circle cx="671.36" cy="395.80" r="2.85" fill="#5656b4"/>
<circle cx="679.50" cy="447.40" r="2.85" fill="#8e7622"/>
<circle cx="679.50" cy="451.90" r="2.85" fill="#5656b4"/>
<path d="M373.5,344.0 L683.5,344.0 L683.5,515.5 L373.5,515.5 Z" fill="none" stroke="#333333" stroke-width="1.2"/>
<line x1="369.3" y1="348.8" x2="373.5" y2="348.8" stroke="#333333" stroke-width="1.3"/>
<text x="368.9" y="352.7" text-anchor="end" font-size="12.3" fill="#151515">1.0</text>
<line x1="369.3" y1="385.0" x2="373.5" y2="385.0" stroke="#333333" stroke-width="1.3"/>
<text x="368.9" y="388.9" text-anchor="end" font-size="12.3" fill="#151515">0.5</text>
<line x1="369.3" y1="421.2" x2="373.5" y2="421.2" stroke="#333333" stroke-width="1.3"/>
<text x="368.9" y="425.09999999999997" text-anchor="end" font-size="12.3" fill="#151515">0</text>
<line x1="369.3" y1="457.4" x2="373.5" y2="457.4" stroke="#333333" stroke-width="1.3"/>
<text x="368.9" y="461.29999999999995" text-anchor="end" font-size="12.3" fill="#151515">-0.5</text>
<line x1="369.3" y1="493.6" x2="373.5" y2="493.6" stroke="#333333" stroke-width="1.3"/>
<text x="368.9" y="497.5" text-anchor="end" font-size="12.3" fill="#151515">-1.0</text>
<line x1="378.20" y1="515.5" x2="378.20" y2="517.6" stroke="#1a1a1a" stroke-width="1.4"/>
<text transform="translate(380.58,519.6) rotate(-90)" text-anchor="end" font-size="6.6" font-style="italic" fill="#1a1a1a" stroke="#1a1a1a" stroke-width="0.1">ACADM</text>
<line x1="386.34" y1="515.5" x2="386.34" y2="523.4" stroke="#1a1a1a" stroke-width="1.4"/>
<text transform="translate(388.72,524.9) rotate(-90)" text-anchor="end" font-size="6.6" font-style="italic" fill="#1a1a1a" stroke="#1a1a1a" stroke-width="0.1">ACTN2</text>
<line x1="394.49" y1="515.5" x2="394.49" y2="517.6" stroke="#1a1a1a" stroke-width="1.4"/>
<text transform="translate(396.86,519.6) rotate(-90)" text-anchor="end" font-size="6.6" font-style="italic" fill="#1a1a1a" stroke="#1a1a1a" stroke-width="0.1">ADRB2</text>
<line x1="402.63" y1="515.5" x2="402.63" y2="523.4" stroke="#1a1a1a" stroke-width="1.4"/>
<text transform="translate(405.01,524.9) rotate(-90)" text-anchor="end" font-size="6.6" font-style="italic" fill="#1a1a1a" stroke="#1a1a1a" stroke-width="0.1">AKT3</text>
<line x1="410.77" y1="515.5" x2="410.77" y2="517.6" stroke="#1a1a1a" stroke-width="1.4"/>
<text transform="translate(413.15,519.6) rotate(-90)" text-anchor="end" font-size="6.6" font-style="italic" fill="#1a1a1a" stroke="#1a1a1a" stroke-width="0.1">CASQ2</text>
<line x1="418.92" y1="515.5" x2="418.92" y2="523.4" stroke="#1a1a1a" stroke-width="1.4"/>
<text transform="translate(421.29,524.9) rotate(-90)" text-anchor="end" font-size="6.6" font-style="italic" fill="#1a1a1a" stroke="#1a1a1a" stroke-width="0.1">CD36</text>
<line x1="427.06" y1="515.5" x2="427.06" y2="517.6" stroke="#1a1a1a" stroke-width="1.4"/>
<text transform="translate(429.44,519.6) rotate(-90)" text-anchor="end" font-size="6.6" font-style="italic" fill="#1a1a1a" stroke="#1a1a1a" stroke-width="0.1">DYNLL2</text>
<line x1="435.20" y1="515.5" x2="435.20" y2="523.4" stroke="#1a1a1a" stroke-width="1.4"/>
<text transform="translate(437.58,524.9) rotate(-90)" text-anchor="end" font-size="6.6" font-style="italic" fill="#1a1a1a" stroke="#1a1a1a" stroke-width="0.1">FGF7</text>
<line x1="443.35" y1="515.5" x2="443.35" y2="517.6" stroke="#1a1a1a" stroke-width="1.4"/>
<text transform="translate(445.72,519.6) rotate(-90)" text-anchor="end" font-size="6.6" font-style="italic" fill="#1a1a1a" stroke="#1a1a1a" stroke-width="0.1">FLOT2</text>
<line x1="451.49" y1="515.5" x2="451.49" y2="523.4" stroke="#1a1a1a" stroke-width="1.4"/>
<text transform="translate(453.87,524.9) rotate(-90)" text-anchor="end" font-size="6.6" font-style="italic" fill="#1a1a1a" stroke="#1a1a1a" stroke-width="0.1">GNA13</text>
<line x1="459.63" y1="515.5" x2="459.63" y2="517.6" stroke="#1a1a1a" stroke-width="1.4"/>
<text transform="translate(462.01,519.6) rotate(-90)" text-anchor="end" font-size="6.6" font-style="italic" fill="#1a1a1a" stroke="#1a1a1a" stroke-width="0.1">HMOX1</text>
<line x1="467.78" y1="515.5" x2="467.78" y2="523.4" stroke="#1a1a1a" stroke-width="1.4"/>
<text transform="translate(470.15,524.9) rotate(-90)" text-anchor="end" font-size="6.6" font-style="italic" fill="#1a1a1a" stroke="#1a1a1a" stroke-width="0.1">HMOX2</text>
<line x1="475.92" y1="515.5" x2="475.92" y2="517.6" stroke="#1a1a1a" stroke-width="1.4"/>
<text transform="translate(478.29,519.6) rotate(-90)" text-anchor="end" font-size="6.6" font-style="italic" fill="#1a1a1a" stroke="#1a1a1a" stroke-width="0.1">HSPH1</text>
<line x1="484.06" y1="515.5" x2="484.06" y2="523.4" stroke="#1a1a1a" stroke-width="1.4"/>
<text transform="translate(486.44,524.9) rotate(-90)" text-anchor="end" font-size="6.6" font-style="italic" fill="#1a1a1a" stroke="#1a1a1a" stroke-width="0.1">IKBKB</text>
<line x1="492.21" y1="515.5" x2="492.21" y2="517.6" stroke="#1a1a1a" stroke-width="1.4"/>
<text transform="translate(494.58,519.6) rotate(-90)" text-anchor="end" font-size="6.6" font-style="italic" fill="#1a1a1a" stroke="#1a1a1a" stroke-width="0.1">ITGA6</text>
<line x1="500.35" y1="515.5" x2="500.35" y2="523.4" stroke="#1a1a1a" stroke-width="1.4"/>
<text transform="translate(502.72,524.9) rotate(-90)" text-anchor="end" font-size="6.6" font-style="italic" fill="#1a1a1a" stroke="#1a1a1a" stroke-width="0.1">ITGA7</text>
<line x1="508.49" y1="515.5" x2="508.49" y2="517.6" stroke="#1a1a1a" stroke-width="1.4"/>
<text transform="translate(510.87,519.6) rotate(-90)" text-anchor="end" font-size="6.6" font-style="italic" fill="#1a1a1a" stroke="#1a1a1a" stroke-width="0.1">KDR</text>
<line x1="516.64" y1="515.5" x2="516.64" y2="523.4" stroke="#1a1a1a" stroke-width="1.4"/>
<text transform="translate(519.01,524.9) rotate(-90)" text-anchor="end" font-size="6.6" font-style="italic" fill="#1a1a1a" stroke="#1a1a1a" stroke-width="0.1">MAPKAPK2</text>
<line x1="524.78" y1="515.5" x2="524.78" y2="517.6" stroke="#1a1a1a" stroke-width="1.4"/>
<text transform="translate(527.15,519.6) rotate(-90)" text-anchor="end" font-size="6.6" font-style="italic" fill="#1a1a1a" stroke="#1a1a1a" stroke-width="0.1">MCU</text>
<line x1="532.92" y1="515.5" x2="532.92" y2="523.4" stroke="#1a1a1a" stroke-width="1.4"/>
<text transform="translate(535.30,524.9) rotate(-90)" text-anchor="end" font-size="6.6" font-style="italic" fill="#1a1a1a" stroke="#1a1a1a" stroke-width="0.1">MLXIP</text>
<line x1="541.06" y1="515.5" x2="541.06" y2="517.6" stroke="#1a1a1a" stroke-width="1.4"/>
<text transform="translate(543.44,519.6) rotate(-90)" text-anchor="end" font-size="6.6" font-style="italic" fill="#1a1a1a" stroke="#1a1a1a" stroke-width="0.1">MLXIPL</text>
<line x1="549.21" y1="515.5" x2="549.21" y2="523.4" stroke="#1a1a1a" stroke-width="1.4"/>
<text transform="translate(551.58,524.9) rotate(-90)" text-anchor="end" font-size="6.6" font-style="italic" fill="#1a1a1a" stroke="#1a1a1a" stroke-width="0.1">MLYCD</text>
<line x1="557.35" y1="515.5" x2="557.35" y2="517.6" stroke="#1a1a1a" stroke-width="1.4"/>
<text transform="translate(559.73,519.6) rotate(-90)" text-anchor="end" font-size="6.6" font-style="italic" fill="#1a1a1a" stroke="#1a1a1a" stroke-width="0.1">MYL3</text>
<line x1="565.49" y1="515.5" x2="565.49" y2="523.4" stroke="#1a1a1a" stroke-width="1.4"/>
<text transform="translate(567.87,524.9) rotate(-90)" text-anchor="end" font-size="6.6" font-style="italic" fill="#1a1a1a" stroke="#1a1a1a" stroke-width="0.1">MYL4</text>
<line x1="573.64" y1="515.5" x2="573.64" y2="517.6" stroke="#1a1a1a" stroke-width="1.4"/>
<text transform="translate(576.01,519.6) rotate(-90)" text-anchor="end" font-size="6.6" font-style="italic" fill="#1a1a1a" stroke="#1a1a1a" stroke-width="0.1">NDUFB4</text>
<line x1="581.78" y1="515.5" x2="581.78" y2="523.4" stroke="#1a1a1a" stroke-width="1.4"/>
<text transform="translate(584.16,524.9) rotate(-90)" text-anchor="end" font-size="6.6" font-style="italic" fill="#1a1a1a" stroke="#1a1a1a" stroke-width="0.1">NDUFB7</text>
<line x1="589.92" y1="515.5" x2="589.92" y2="517.6" stroke="#1a1a1a" stroke-width="1.4"/>
<text transform="translate(592.30,519.6) rotate(-90)" text-anchor="end" font-size="6.6" font-style="italic" fill="#1a1a1a" stroke="#1a1a1a" stroke-width="0.1">NFATC2</text>
<line x1="598.07" y1="515.5" x2="598.07" y2="523.4" stroke="#1a1a1a" stroke-width="1.4"/>
<text transform="translate(600.44,524.9) rotate(-90)" text-anchor="end" font-size="6.6" font-style="italic" fill="#1a1a1a" stroke="#1a1a1a" stroke-width="0.1">NFYC</text>
<line x1="606.21" y1="515.5" x2="606.21" y2="517.6" stroke="#1a1a1a" stroke-width="1.4"/>
<text transform="translate(608.59,519.6) rotate(-90)" text-anchor="end" font-size="6.6" font-style="italic" fill="#1a1a1a" stroke="#1a1a1a" stroke-width="0.1">PDGFC</text>
<line x1="614.35" y1="515.5" x2="614.35" y2="523.4" stroke="#1a1a1a" stroke-width="1.4"/>
<text transform="translate(616.73,524.9) rotate(-90)" text-anchor="end" font-size="6.6" font-style="italic" fill="#1a1a1a" stroke="#1a1a1a" stroke-width="0.1">PLIN5</text>
<line x1="622.50" y1="515.5" x2="622.50" y2="517.6" stroke="#1a1a1a" stroke-width="1.4"/>
<text transform="translate(624.87,519.6) rotate(-90)" text-anchor="end" font-size="6.6" font-style="italic" fill="#1a1a1a" stroke="#1a1a1a" stroke-width="0.1">PLN</text>
<line x1="630.64" y1="515.5" x2="630.64" y2="523.4" stroke="#1a1a1a" stroke-width="1.4"/>
<text transform="translate(633.02,524.9) rotate(-90)" text-anchor="end" font-size="6.6" font-style="italic" fill="#1a1a1a" stroke="#1a1a1a" stroke-width="0.1">PREB</text>
<line x1="638.78" y1="515.5" x2="638.78" y2="517.6" stroke="#1a1a1a" stroke-width="1.4"/>
<text transform="translate(641.16,519.6) rotate(-90)" text-anchor="end" font-size="6.6" font-style="italic" fill="#1a1a1a" stroke="#1a1a1a" stroke-width="0.1">SESN1</text>
<line x1="646.93" y1="515.5" x2="646.93" y2="523.4" stroke="#1a1a1a" stroke-width="1.4"/>
<text transform="translate(649.30,524.9) rotate(-90)" text-anchor="end" font-size="6.6" font-style="italic" fill="#1a1a1a" stroke="#1a1a1a" stroke-width="0.1">SOX9</text>
<line x1="655.07" y1="515.5" x2="655.07" y2="517.6" stroke="#1a1a1a" stroke-width="1.4"/>
<text transform="translate(657.45,519.6) rotate(-90)" text-anchor="end" font-size="6.6" font-style="italic" fill="#1a1a1a" stroke="#1a1a1a" stroke-width="0.1">TNIK</text>
<line x1="663.21" y1="515.5" x2="663.21" y2="523.4" stroke="#1a1a1a" stroke-width="1.4"/>
<text transform="translate(665.59,524.9) rotate(-90)" text-anchor="end" font-size="6.6" font-style="italic" fill="#1a1a1a" stroke="#1a1a1a" stroke-width="0.1">TRIM72</text>
<line x1="671.36" y1="515.5" x2="671.36" y2="517.6" stroke="#1a1a1a" stroke-width="1.4"/>
<text transform="translate(673.73,519.6) rotate(-90)" text-anchor="end" font-size="6.6" font-style="italic" fill="#1a1a1a" stroke="#1a1a1a" stroke-width="0.1">ULK1</text>
<line x1="679.50" y1="515.5" x2="679.50" y2="523.4" stroke="#1a1a1a" stroke-width="1.4"/>
<text transform="translate(681.88,524.9) rotate(-90)" text-anchor="end" font-size="6.6" font-style="italic" fill="#1a1a1a" stroke="#1a1a1a" stroke-width="0.1">WIPI1</text>
<text x="39.9" y="269.3" font-size="15.4" textLength="131.9" lengthAdjust="spacingAndGlyphs" fill="#151515">Spaceflight duration</text>
<circle cx="184.0" cy="265.2" r="8.1" fill="#8db4cf"/>
<text x="195.5" y="269.6" font-size="12.25" fill="#151515">11 days (GSE10533)</text>
<g><circle cx="313.6" cy="264.0" r="3.45" fill="none" stroke="#000" stroke-width="1.35"/><polygon points="311.60,267.90 315.60,267.90 313.60,271.80" fill="#000"/></g>
<circle cx="184.0" cy="287.8" r="8.1" fill="#973218"/>
<text x="196.4" y="292.0" font-size="12.25" fill="#151515">30 days (GSE80223, GSE94381)</text>
<g><circle cx="380.9" cy="289.8" r="3.4" fill="none" stroke="#000" stroke-width="1.3"/><line x1="383.30" y1="287.40" x2="386.50" y2="284.20" stroke="#000" stroke-width="1.3"/><polygon points="383.90,283.10 388.00,282.90 387.70,287.00" fill="#000"/></g>
<circle cx="402.5" cy="265.2" r="8.2" fill="#23987e"/>
<text x="413.8" y="269.6" font-size="12.25" fill="#151515">33 days (GSE156321)</text>
<g><circle cx="540.2" cy="263.9" r="3.45" fill="none" stroke="#000" stroke-width="1.35"/><polygon points="538.20,267.80 542.20,267.80 540.20,271.70" fill="#000"/></g>
<circle cx="402.6" cy="287.8" r="7.9" fill="#1c5b94"/>
<text x="413.8" y="292.0" font-size="12.25" fill="#151515">37 days (GLDS-99/-101/-103/-104/-105)</text>
<g><circle cx="637.6" cy="286.7" r="3.45" fill="none" stroke="#000" stroke-width="1.35"/><polygon points="635.60,290.60 639.60,290.60 637.60,294.50" fill="#000"/></g>
<text x="92.7" y="574.9" font-size="15.4" textLength="109.8" lengthAdjust="spacingAndGlyphs" fill="#151515">Bedrest duration</text>
<circle cx="220.8" cy="568.8" r="8.1" fill="#5f9b29"/>
<text x="233.9" y="573.4" font-size="12.25" fill="#151515">9 days (GLDS-370)</text>
<g><circle cx="343.6" cy="571.5" r="3.4" fill="none" stroke="#000" stroke-width="1.3"/><line x1="346.00" y1="569.10" x2="349.20" y2="565.90" stroke="#000" stroke-width="1.3"/><polygon points="346.60,564.80 350.70,564.60 350.40,568.70" fill="#000"/></g>
<circle cx="220.8" cy="588.6" r="8.1" fill="#5656b4"/>
<text x="233.3" y="592.8" font-size="12.25" fill="#151515">21 days (GSE104999)</text>
<g><circle cx="359.1" cy="589.7" r="3.4" fill="none" stroke="#000" stroke-width="1.3"/><line x1="361.50" y1="587.30" x2="364.70" y2="584.10" stroke="#000" stroke-width="1.3"/><polygon points="362.10,583.00 366.20,582.80 365.90,586.90" fill="#000"/></g>
<circle cx="403.9" cy="568.8" r="7.8" fill="#6ea6d6"/>
<text x="416.0" y="573.4" font-size="12.25" fill="#151515">60 days (GSE14798)</text>
<g><circle cx="535.5" cy="568.8" r="3.45" fill="none" stroke="#000" stroke-width="1.35"/><polygon points="533.50,572.70 537.50,572.70 535.50,576.60" fill="#000"/></g>
<circle cx="403.9" cy="588.5" r="7.8" fill="#8e7622"/>
<text x="416.6" y="592.8" font-size="12.25" fill="#151515">90 days (GSE148152)</text>
<g><circle cx="543.6" cy="590.0" r="3.4" fill="none" stroke="#000" stroke-width="1.3"/><line x1="546.00" y1="587.60" x2="549.20" y2="584.40" stroke="#000" stroke-width="1.3"/><polygon points="546.60,583.30 550.70,583.10 550.40,587.20" fill="#000"/></g>
</svg>
</body></html>
